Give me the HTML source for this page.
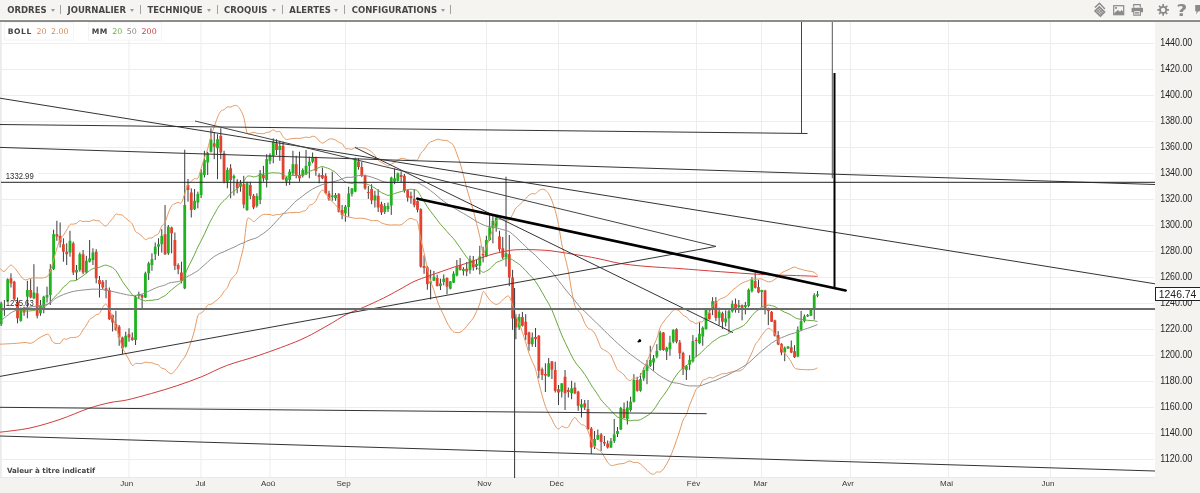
<!DOCTYPE html>
<html><head><meta charset="utf-8"><style>
html,body{margin:0;padding:0;width:1200px;height:493px;overflow:hidden;background:#fff;font-family:"Liberation Sans",Arial,sans-serif}
#tb{position:absolute;left:0;top:0;width:1200px;height:19px;background:#f5f4f1;border-bottom:1px solid #fbfbfa}
#tbl{position:absolute;left:0;top:20px;width:1200px;height:2px;background:#8c8c8c}
.mi{position:absolute;top:5px;font-family:"DejaVu Sans",sans-serif;font-size:8.5px;font-weight:bold;color:#454545;white-space:nowrap;line-height:11px}
.ar{position:absolute;top:9px;width:0;height:0;border-left:2.3px solid transparent;border-right:2.3px solid transparent;border-top:3px solid #9a9a9a}
.sp{position:absolute;top:5px;width:1.3px;height:9px;background:#a2a2a2}
svg{position:absolute;left:0;top:0}
</style></head><body>
<div id="tb"></div><div id="tbl"></div>
<span class="mi" style="left:7.3px">ORDRES</span><span class="ar" style="left:50.5px"></span><span class="sp" style="left:60px"></span>
<span class="mi" style="left:67.5px">JOURNALIER</span><span class="ar" style="left:130px"></span><span class="sp" style="left:140px"></span>
<span class="mi" style="left:147.5px">TECHNIQUE</span><span class="ar" style="left:207px"></span><span class="sp" style="left:216.5px"></span>
<span class="mi" style="left:224px">CROQUIS</span><span class="ar" style="left:272px"></span><span class="sp" style="left:281.5px"></span>
<span class="mi" style="left:289.3px">ALERTES</span><span class="ar" style="left:334px"></span><span class="sp" style="left:343.5px"></span>
<span class="mi" style="left:351.7px">CONFIGURATIONS</span><span class="ar" style="left:440.5px"></span><span class="sp" style="left:450px"></span>
<svg width="1200" height="493" viewBox="0 0 1200 493" style="top:0">
<defs><style>.w{stroke:#3c3c3c;stroke-width:1}</style></defs>
<g transform="translate(0,0)">
<rect x="0" y="22" width="1155" height="456" fill="#fff"/>
<g stroke="#ededed" stroke-width="1"><line x1="0" y1="459.5" x2="1154" y2="459.5"/><line x1="0" y1="433.5" x2="1154" y2="433.5"/><line x1="0" y1="407.5" x2="1154" y2="407.5"/><line x1="0" y1="381.5" x2="1154" y2="381.5"/><line x1="0" y1="355.5" x2="1154" y2="355.5"/><line x1="0" y1="329.5" x2="1154" y2="329.5"/><line x1="0" y1="303.5" x2="1154" y2="303.5"/><line x1="0" y1="277.5" x2="1154" y2="277.5"/><line x1="0" y1="251.5" x2="1154" y2="251.5"/><line x1="0" y1="225.5" x2="1154" y2="225.5"/><line x1="0" y1="199.5" x2="1154" y2="199.5"/><line x1="0" y1="173.5" x2="1154" y2="173.5"/><line x1="0" y1="147.5" x2="1154" y2="147.5"/><line x1="0" y1="121.5" x2="1154" y2="121.5"/><line x1="0" y1="95.5" x2="1154" y2="95.5"/><line x1="0" y1="69.5" x2="1154" y2="69.5"/><line x1="0" y1="43.5" x2="1154" y2="43.5"/><line x1="129" y1="22" x2="129" y2="478"/><line x1="201" y1="22" x2="201" y2="478"/><line x1="270" y1="22" x2="270" y2="478"/><line x1="345.5" y1="22" x2="345.5" y2="478"/><line x1="486.5" y1="22" x2="486.5" y2="478"/><line x1="558.5" y1="22" x2="558.5" y2="478"/><line x1="696.5" y1="22" x2="696.5" y2="478"/><line x1="761.5" y1="22" x2="761.5" y2="478"/><line x1="850.5" y1="22" x2="850.5" y2="478"/><line x1="948.5" y1="22" x2="948.5" y2="478"/><line x1="1050.5" y1="22" x2="1050.5" y2="478"/></g>
<rect x="0" y="22" width="1.8" height="456" fill="#ebebeb"/>
<rect x="1155" y="22" width="45" height="471" fill="#f4f3f0"/>
<rect x="0" y="478" width="1155" height="15" fill="#f4f3f0"/>
<line x1="0" y1="477.5" x2="1155" y2="477.5" stroke="#e8e8e8"/>
<rect x="1.8" y="170.5" width="37.2" height="11" fill="#fff"/><rect x="1.8" y="297.5" width="37.2" height="10" fill="#fff"/>
<g><line x1="1.13" y1="301.7" x2="1.13" y2="326.0" class="w"/><rect x="-0.27" y="303.3" width="2.8" height="20.9" fill="#1fb31f"/><line x1="4.41" y1="300.0" x2="4.41" y2="315.8" class="w"/><rect x="3.01" y="308.5" width="2.8" height="1.5" fill="#e2422f"/><line x1="7.69" y1="278.3" x2="7.69" y2="301.7" class="w"/><rect x="6.29" y="279.2" width="2.8" height="21.6" fill="#1fb31f"/><line x1="10.97" y1="273.3" x2="10.97" y2="287.5" class="w"/><rect x="9.57" y="278.3" width="2.8" height="5.0" fill="#e2422f"/><line x1="14.24" y1="280.8" x2="14.24" y2="300.8" class="w"/><rect x="12.84" y="281.7" width="2.8" height="17.5" fill="#e2422f"/><line x1="17.52" y1="297.5" x2="17.52" y2="323.3" class="w"/><rect x="16.12" y="301.7" width="2.8" height="16.6" fill="#e2422f"/><line x1="20.80" y1="307.5" x2="20.80" y2="321.7" class="w"/><rect x="19.40" y="309.2" width="2.8" height="11.6" fill="#1fb31f"/><line x1="24.08" y1="306.7" x2="24.08" y2="315.8" class="w"/><rect x="22.68" y="307.5" width="2.8" height="5.0" fill="#e2422f"/><line x1="27.36" y1="280.8" x2="27.36" y2="318.3" class="w"/><rect x="25.96" y="290.0" width="2.8" height="6.7" fill="#1fb31f"/><line x1="30.64" y1="279.2" x2="30.64" y2="298.3" class="w"/><rect x="29.24" y="290.0" width="2.8" height="7.5" fill="#e2422f"/><line x1="33.92" y1="264.2" x2="33.92" y2="299.2" class="w"/><rect x="32.52" y="292.5" width="2.8" height="5.8" fill="#1fb31f"/><line x1="37.19" y1="286.7" x2="37.19" y2="318.3" class="w"/><rect x="35.79" y="293.3" width="2.8" height="22.5" fill="#e2422f"/><line x1="40.47" y1="300.0" x2="40.47" y2="315.8" class="w"/><rect x="39.07" y="305.0" width="2.8" height="8.3" fill="#1fb31f"/><line x1="43.75" y1="295.8" x2="43.75" y2="313.3" class="w"/><rect x="42.35" y="296.7" width="2.8" height="11.6" fill="#1fb31f"/><line x1="47.03" y1="286.7" x2="47.03" y2="302.5" class="w"/><rect x="45.63" y="295.0" width="2.8" height="2.5" fill="#1fb31f"/><line x1="50.31" y1="264.2" x2="50.31" y2="305.0" class="w"/><rect x="48.91" y="269.2" width="2.8" height="25.8" fill="#1fb31f"/><line x1="53.59" y1="229.7" x2="53.59" y2="270.0" class="w"/><rect x="52.19" y="234.2" width="2.8" height="35.0" fill="#1fb31f"/><line x1="56.87" y1="220.8" x2="56.87" y2="240.8" class="w"/><rect x="55.47" y="234.2" width="2.8" height="2.5" fill="#e2422f"/><line x1="60.14" y1="222.5" x2="60.14" y2="247.5" class="w"/><rect x="58.74" y="235.8" width="2.8" height="6.7" fill="#e2422f"/><line x1="63.42" y1="238.3" x2="63.42" y2="261.7" class="w"/><rect x="62.02" y="244.2" width="2.8" height="7.5" fill="#e2422f"/><line x1="66.70" y1="243.3" x2="66.70" y2="265.0" class="w"/><rect x="65.30" y="251.7" width="2.8" height="2.5" fill="#e2422f"/><line x1="69.98" y1="230.8" x2="69.98" y2="256.7" class="w"/><rect x="68.58" y="240.8" width="2.8" height="11.7" fill="#1fb31f"/><line x1="73.26" y1="241.7" x2="73.26" y2="275.0" class="w"/><rect x="71.86" y="243.3" width="2.8" height="29.2" fill="#e2422f"/><line x1="76.54" y1="265.0" x2="76.54" y2="280.0" class="w"/><rect x="75.14" y="270.0" width="2.8" height="2.5" fill="#1fb31f"/><line x1="79.82" y1="252.5" x2="79.82" y2="271.7" class="w"/><rect x="78.42" y="254.2" width="2.8" height="15.8" fill="#1fb31f"/><line x1="83.09" y1="250.0" x2="83.09" y2="274.2" class="w"/><rect x="81.69" y="254.2" width="2.8" height="18.3" fill="#e2422f"/><line x1="86.37" y1="255.8" x2="86.37" y2="273.3" class="w"/><rect x="84.97" y="260.8" width="2.8" height="11.7" fill="#1fb31f"/><line x1="89.65" y1="240.0" x2="89.65" y2="262.5" class="w"/><rect x="88.25" y="258.3" width="2.8" height="3.4" fill="#1fb31f"/><line x1="92.93" y1="248.3" x2="92.93" y2="265.0" class="w"/><rect x="91.53" y="252.5" width="2.8" height="7.5" fill="#1fb31f"/><line x1="96.21" y1="249.2" x2="96.21" y2="283.3" class="w"/><rect x="94.81" y="251.7" width="2.8" height="26.6" fill="#e2422f"/><line x1="99.49" y1="276.0" x2="99.49" y2="297.5" class="w"/><rect x="98.09" y="280.0" width="2.8" height="4.2" fill="#e2422f"/><line x1="102.77" y1="280.0" x2="102.77" y2="289.2" class="w"/><rect x="101.37" y="281.7" width="2.8" height="5.8" fill="#e2422f"/><line x1="106.05" y1="280.0" x2="106.05" y2="298.3" class="w"/><rect x="104.65" y="288.3" width="2.8" height="2.5" fill="#e2422f"/><line x1="109.32" y1="287.5" x2="109.32" y2="320.0" class="w"/><rect x="107.92" y="290.0" width="2.8" height="29.2" fill="#e2422f"/><line x1="112.60" y1="314.6" x2="112.60" y2="331.5" class="w"/><rect x="111.20" y="315.0" width="2.8" height="7.5" fill="#e2422f"/><line x1="115.88" y1="310.8" x2="115.88" y2="330.8" class="w"/><rect x="114.48" y="324.2" width="2.8" height="5.8" fill="#e2422f"/><line x1="119.16" y1="325.0" x2="119.16" y2="345.8" class="w"/><rect x="117.76" y="326.7" width="2.8" height="10.8" fill="#e2422f"/><line x1="122.44" y1="336.7" x2="122.44" y2="354.2" class="w"/><rect x="121.04" y="337.5" width="2.8" height="10.8" fill="#e2422f"/><line x1="125.72" y1="331.7" x2="125.72" y2="347.5" class="w"/><rect x="124.32" y="335.8" width="2.8" height="10.9" fill="#1fb31f"/><line x1="129.00" y1="328.3" x2="129.00" y2="341.7" class="w"/><rect x="127.60" y="334.2" width="2.8" height="3.3" fill="#e2422f"/><line x1="132.27" y1="332.5" x2="132.27" y2="340.8" class="w"/><rect x="130.87" y="337.5" width="2.8" height="2.5" fill="#e2422f"/><line x1="135.55" y1="295.8" x2="135.55" y2="345.0" class="w"/><rect x="134.15" y="296.7" width="2.8" height="43.3" fill="#1fb31f"/><line x1="138.83" y1="291.7" x2="138.83" y2="298.3" class="w"/><rect x="137.43" y="294.0" width="2.8" height="2.0" fill="#1fb31f"/><line x1="142.11" y1="294.2" x2="142.11" y2="308.3" class="w"/><rect x="140.71" y="295.0" width="2.8" height="2.5" fill="#e2422f"/><line x1="145.39" y1="271.7" x2="145.39" y2="298.0" class="w"/><rect x="143.99" y="273.3" width="2.8" height="24.2" fill="#1fb31f"/><line x1="148.67" y1="261.7" x2="148.67" y2="280.0" class="w"/><rect x="147.27" y="263.3" width="2.8" height="10.0" fill="#1fb31f"/><line x1="151.95" y1="253.3" x2="151.95" y2="270.8" class="w"/><rect x="150.55" y="259.2" width="2.8" height="5.8" fill="#1fb31f"/><line x1="155.22" y1="242.5" x2="155.22" y2="260.0" class="w"/><rect x="153.82" y="246.7" width="2.8" height="7.5" fill="#1fb31f"/><line x1="158.50" y1="238.3" x2="158.50" y2="255.8" class="w"/><rect x="157.10" y="244.2" width="2.8" height="2.5" fill="#1fb31f"/><line x1="161.78" y1="229.2" x2="161.78" y2="252.5" class="w"/><rect x="160.38" y="235.8" width="2.8" height="8.4" fill="#1fb31f"/><line x1="165.06" y1="205.0" x2="165.06" y2="255.0" class="w"/><rect x="163.66" y="234.2" width="2.8" height="20.0" fill="#e2422f"/><line x1="168.34" y1="225.0" x2="168.34" y2="255.0" class="w"/><rect x="166.94" y="226.7" width="2.8" height="26.6" fill="#1fb31f"/><line x1="171.62" y1="226.7" x2="171.62" y2="253.3" class="w"/><rect x="170.22" y="227.5" width="2.8" height="5.8" fill="#e2422f"/><line x1="174.90" y1="232.5" x2="174.90" y2="270.0" class="w"/><rect x="173.50" y="240.0" width="2.8" height="25.8" fill="#e2422f"/><line x1="178.17" y1="263.3" x2="178.17" y2="274.2" class="w"/><rect x="176.77" y="265.0" width="2.8" height="4.2" fill="#e2422f"/><line x1="181.45" y1="261.7" x2="181.45" y2="283.3" class="w"/><rect x="180.05" y="272.5" width="2.8" height="8.3" fill="#e2422f"/><line x1="184.73" y1="149.7" x2="184.73" y2="289.2" class="w"/><rect x="183.33" y="205.0" width="2.8" height="83.3" fill="#1fb31f"/><line x1="188.01" y1="179.0" x2="188.01" y2="201.7" class="w"/><rect x="186.61" y="185.0" width="2.8" height="5.0" fill="#e2422f"/><line x1="191.29" y1="188.3" x2="191.29" y2="217.5" class="w"/><rect x="189.89" y="192.5" width="2.8" height="17.5" fill="#e2422f"/><line x1="194.57" y1="189.0" x2="194.57" y2="210.0" class="w"/><rect x="193.17" y="200.8" width="2.8" height="8.4" fill="#1fb31f"/><line x1="197.85" y1="191.7" x2="197.85" y2="208.3" class="w"/><rect x="196.45" y="194.0" width="2.8" height="8.5" fill="#1fb31f"/><line x1="201.12" y1="169.2" x2="201.12" y2="198.0" class="w"/><rect x="199.72" y="172.5" width="2.8" height="22.5" fill="#1fb31f"/><line x1="204.40" y1="150.8" x2="204.40" y2="177.5" class="w"/><rect x="203.00" y="160.0" width="2.8" height="15.0" fill="#1fb31f"/><line x1="207.68" y1="151.7" x2="207.68" y2="175.0" class="w"/><rect x="206.28" y="153.3" width="2.8" height="9.2" fill="#1fb31f"/><line x1="210.96" y1="128.3" x2="210.96" y2="152.5" class="w"/><rect x="209.56" y="139.5" width="2.8" height="12.2" fill="#1fb31f"/><line x1="214.24" y1="132.5" x2="214.24" y2="159.2" class="w"/><rect x="212.84" y="143.3" width="2.8" height="3.4" fill="#e2422f"/><line x1="217.52" y1="134.2" x2="217.52" y2="179.2" class="w"/><rect x="216.12" y="139.2" width="2.8" height="9.1" fill="#1fb31f"/><line x1="220.80" y1="128.3" x2="220.80" y2="159.2" class="w"/><rect x="219.40" y="135.8" width="2.8" height="16.7" fill="#e2422f"/><line x1="224.07" y1="150.8" x2="224.07" y2="183.3" class="w"/><rect x="222.67" y="153.3" width="2.8" height="28.4" fill="#e2422f"/><line x1="227.35" y1="167.5" x2="227.35" y2="188.3" class="w"/><rect x="225.95" y="170.0" width="2.8" height="11.7" fill="#1fb31f"/><line x1="230.63" y1="164.2" x2="230.63" y2="198.3" class="w"/><rect x="229.23" y="168.3" width="2.8" height="11.7" fill="#e2422f"/><line x1="233.91" y1="174.5" x2="233.91" y2="195.5" class="w"/><rect x="232.51" y="176.0" width="2.8" height="2.3" fill="#1fb31f"/><line x1="237.19" y1="179.2" x2="237.19" y2="193.3" class="w"/><rect x="235.79" y="182.5" width="2.8" height="5.8" fill="#e2422f"/><line x1="240.47" y1="180.0" x2="240.47" y2="191.7" class="w"/><rect x="239.07" y="183.3" width="2.8" height="3.4" fill="#1fb31f"/><line x1="243.75" y1="175.8" x2="243.75" y2="208.3" class="w"/><rect x="242.35" y="184.2" width="2.8" height="20.3" fill="#e2422f"/><line x1="247.03" y1="181.7" x2="247.03" y2="210.8" class="w"/><rect x="245.62" y="183.3" width="2.8" height="26.7" fill="#1fb31f"/><line x1="250.30" y1="181.7" x2="250.30" y2="199.2" class="w"/><rect x="248.90" y="185.0" width="2.8" height="10.8" fill="#e2422f"/><line x1="253.58" y1="194.0" x2="253.58" y2="209.2" class="w"/><rect x="252.18" y="195.8" width="2.8" height="11.7" fill="#e2422f"/><line x1="256.86" y1="193.3" x2="256.86" y2="207.5" class="w"/><rect x="255.46" y="196.0" width="2.8" height="9.8" fill="#1fb31f"/><line x1="260.14" y1="170.0" x2="260.14" y2="204.2" class="w"/><rect x="258.74" y="173.3" width="2.8" height="26.7" fill="#1fb31f"/><line x1="263.42" y1="165.8" x2="263.42" y2="181.7" class="w"/><rect x="262.02" y="175.0" width="2.8" height="3.3" fill="#e2422f"/><line x1="266.70" y1="154.2" x2="266.70" y2="187.5" class="w"/><rect x="265.30" y="159.2" width="2.8" height="20.8" fill="#1fb31f"/><line x1="269.98" y1="153.3" x2="269.98" y2="164.2" class="w"/><rect x="268.58" y="155.0" width="2.8" height="5.8" fill="#1fb31f"/><line x1="273.25" y1="138.3" x2="273.25" y2="163.3" class="w"/><rect x="271.85" y="141.7" width="2.8" height="14.1" fill="#1fb31f"/><line x1="276.53" y1="139.2" x2="276.53" y2="155.0" class="w"/><rect x="275.13" y="143.3" width="2.8" height="6.7" fill="#e2422f"/><line x1="279.81" y1="140.8" x2="279.81" y2="160.8" class="w"/><rect x="278.41" y="145.8" width="2.8" height="4.2" fill="#1fb31f"/><line x1="283.09" y1="141.7" x2="283.09" y2="180.0" class="w"/><rect x="281.69" y="145.8" width="2.8" height="33.4" fill="#e2422f"/><line x1="286.37" y1="176.7" x2="286.37" y2="185.8" class="w"/><rect x="284.97" y="177.5" width="2.8" height="4.2" fill="#1fb31f"/><line x1="289.65" y1="169.2" x2="289.65" y2="185.0" class="w"/><rect x="288.25" y="171.7" width="2.8" height="8.3" fill="#1fb31f"/><line x1="292.93" y1="150.8" x2="292.93" y2="175.0" class="w"/><rect x="291.53" y="164.2" width="2.8" height="9.1" fill="#1fb31f"/><line x1="296.20" y1="155.8" x2="296.20" y2="178.3" class="w"/><rect x="294.80" y="164.2" width="2.8" height="11.6" fill="#e2422f"/><line x1="299.48" y1="151.7" x2="299.48" y2="181.7" class="w"/><rect x="298.08" y="175.0" width="2.8" height="3.3" fill="#e2422f"/><line x1="302.76" y1="168.3" x2="302.76" y2="177.5" class="w"/><rect x="301.36" y="170.0" width="2.8" height="5.8" fill="#1fb31f"/><line x1="306.04" y1="150.0" x2="306.04" y2="175.0" class="w"/><rect x="304.64" y="165.8" width="2.8" height="8.4" fill="#1fb31f"/><line x1="309.32" y1="156.7" x2="309.32" y2="178.3" class="w"/><rect x="307.92" y="161.7" width="2.8" height="4.1" fill="#1fb31f"/><line x1="312.60" y1="152.5" x2="312.60" y2="163.3" class="w"/><rect x="311.20" y="157.5" width="2.8" height="4.2" fill="#1fb31f"/><line x1="315.88" y1="156.7" x2="315.88" y2="175.8" class="w"/><rect x="314.48" y="157.5" width="2.8" height="13.3" fill="#e2422f"/><line x1="319.15" y1="173.3" x2="319.15" y2="183.3" class="w"/><rect x="317.75" y="175.0" width="2.8" height="2.0" fill="#e2422f"/><line x1="322.43" y1="167.5" x2="322.43" y2="179.2" class="w"/><rect x="321.03" y="175.0" width="2.8" height="3.3" fill="#e2422f"/><line x1="325.71" y1="173.3" x2="325.71" y2="194.2" class="w"/><rect x="324.31" y="175.8" width="2.8" height="17.5" fill="#e2422f"/><line x1="328.99" y1="190.8" x2="328.99" y2="200.8" class="w"/><rect x="327.59" y="193.3" width="2.8" height="5.9" fill="#e2422f"/><line x1="332.27" y1="171.7" x2="332.27" y2="200.8" class="w"/><rect x="330.87" y="195.5" width="2.8" height="1.5" fill="#1fb31f"/><line x1="335.55" y1="193.0" x2="335.55" y2="200.8" class="w"/><rect x="334.15" y="195.0" width="2.8" height="3.3" fill="#1fb31f"/><line x1="338.83" y1="193.0" x2="338.83" y2="212.5" class="w"/><rect x="337.43" y="194.2" width="2.8" height="17.5" fill="#e2422f"/><line x1="342.10" y1="205.0" x2="342.10" y2="219.2" class="w"/><rect x="340.70" y="210.0" width="2.8" height="5.0" fill="#e2422f"/><line x1="345.38" y1="205.0" x2="345.38" y2="221.7" class="w"/><rect x="343.98" y="206.7" width="2.8" height="6.6" fill="#1fb31f"/><line x1="348.66" y1="186.7" x2="348.66" y2="216.7" class="w"/><rect x="347.26" y="193.5" width="2.8" height="13.5" fill="#1fb31f"/><line x1="351.94" y1="188.3" x2="351.94" y2="196.5" class="w"/><rect x="350.54" y="188.3" width="2.8" height="5.6" fill="#1fb31f"/><line x1="355.22" y1="157.6" x2="355.22" y2="192.2" class="w"/><rect x="353.82" y="158.9" width="2.8" height="32.7" fill="#1fb31f"/><line x1="358.50" y1="158.2" x2="358.50" y2="169.6" class="w"/><rect x="357.10" y="161.4" width="2.8" height="5.6" fill="#e2422f"/><line x1="361.78" y1="162.0" x2="361.78" y2="177.1" class="w"/><rect x="360.38" y="167.0" width="2.8" height="8.8" fill="#e2422f"/><line x1="365.05" y1="174.6" x2="365.05" y2="189.7" class="w"/><rect x="363.65" y="175.8" width="2.8" height="12.6" fill="#e2422f"/><line x1="368.33" y1="186.0" x2="368.33" y2="198.8" class="w"/><rect x="366.93" y="192.0" width="2.8" height="1.0" fill="#e2422f"/><line x1="371.61" y1="184.2" x2="371.61" y2="204.2" class="w"/><rect x="370.21" y="189.0" width="2.8" height="11.4" fill="#e2422f"/><line x1="374.89" y1="190.8" x2="374.89" y2="207.5" class="w"/><rect x="373.49" y="195.3" width="2.8" height="5.1" fill="#1fb31f"/><line x1="378.17" y1="189.2" x2="378.17" y2="212.0" class="w"/><rect x="376.77" y="195.8" width="2.8" height="11.7" fill="#e2422f"/><line x1="381.45" y1="201.7" x2="381.45" y2="215.0" class="w"/><rect x="380.05" y="204.2" width="2.8" height="8.3" fill="#e2422f"/><line x1="384.73" y1="203.0" x2="384.73" y2="214.0" class="w"/><rect x="383.33" y="206.0" width="2.8" height="6.0" fill="#1fb31f"/><line x1="388.00" y1="202.5" x2="388.00" y2="212.0" class="w"/><rect x="386.60" y="205.8" width="2.8" height="3.4" fill="#1fb31f"/><line x1="391.28" y1="176.7" x2="391.28" y2="214.9" class="w"/><rect x="389.88" y="177.7" width="2.8" height="27.8" fill="#1fb31f"/><line x1="394.56" y1="168.3" x2="394.56" y2="184.2" class="w"/><rect x="393.16" y="178.3" width="2.8" height="3.4" fill="#1fb31f"/><line x1="397.84" y1="172.5" x2="397.84" y2="181.7" class="w"/><rect x="396.44" y="173.3" width="2.8" height="7.5" fill="#1fb31f"/><line x1="401.12" y1="171.4" x2="401.12" y2="182.1" class="w"/><rect x="399.72" y="175.0" width="2.8" height="2.0" fill="#e2422f"/><line x1="404.40" y1="174.0" x2="404.40" y2="192.7" class="w"/><rect x="403.00" y="175.8" width="2.8" height="14.7" fill="#e2422f"/><line x1="407.68" y1="189.5" x2="407.68" y2="201.7" class="w"/><rect x="406.28" y="190.3" width="2.8" height="7.4" fill="#e2422f"/><line x1="410.95" y1="191.7" x2="410.95" y2="203.7" class="w"/><rect x="409.56" y="196.0" width="2.8" height="2.3" fill="#e2422f"/><line x1="414.23" y1="189.0" x2="414.23" y2="207.4" class="w"/><rect x="412.83" y="198.7" width="2.8" height="6.4" fill="#e2422f"/><line x1="417.51" y1="200.4" x2="417.51" y2="212.4" class="w"/><rect x="416.11" y="201.1" width="2.8" height="8.7" fill="#e2422f"/><line x1="420.79" y1="208.3" x2="420.79" y2="267.7" class="w"/><rect x="419.39" y="209.2" width="2.8" height="57.5" fill="#e2422f"/><line x1="424.07" y1="255.4" x2="424.07" y2="273.8" class="w"/><rect x="422.67" y="266.0" width="2.8" height="2.0" fill="#e2422f"/><line x1="427.35" y1="266.0" x2="427.35" y2="289.7" class="w"/><rect x="425.95" y="267.4" width="2.8" height="16.7" fill="#e2422f"/><line x1="430.63" y1="269.7" x2="430.63" y2="299.5" class="w"/><rect x="429.23" y="281.4" width="2.8" height="2.0" fill="#1fb31f"/><line x1="433.91" y1="271.0" x2="433.91" y2="281.0" class="w"/><rect x="432.51" y="276.7" width="2.8" height="4.0" fill="#1fb31f"/><line x1="437.18" y1="274.7" x2="437.18" y2="286.4" class="w"/><rect x="435.78" y="278.0" width="2.8" height="8.1" fill="#e2422f"/><line x1="440.46" y1="278.7" x2="440.46" y2="290.1" class="w"/><rect x="439.06" y="283.4" width="2.8" height="2.7" fill="#1fb31f"/><line x1="443.74" y1="274.4" x2="443.74" y2="285.4" class="w"/><rect x="442.34" y="278.7" width="2.8" height="3.3" fill="#1fb31f"/><line x1="447.02" y1="277.4" x2="447.02" y2="294.4" class="w"/><rect x="445.62" y="278.0" width="2.8" height="8.7" fill="#e2422f"/><line x1="450.30" y1="281.0" x2="450.30" y2="289.4" class="w"/><rect x="448.90" y="281.4" width="2.8" height="7.3" fill="#1fb31f"/><line x1="453.58" y1="271.3" x2="453.58" y2="283.0" class="w"/><rect x="452.18" y="273.7" width="2.8" height="9.0" fill="#1fb31f"/><line x1="456.86" y1="260.0" x2="456.86" y2="276.4" class="w"/><rect x="455.46" y="266.4" width="2.8" height="9.0" fill="#1fb31f"/><line x1="460.13" y1="258.0" x2="460.13" y2="270.4" class="w"/><rect x="458.73" y="265.1" width="2.8" height="5.0" fill="#e2422f"/><line x1="463.41" y1="267.1" x2="463.41" y2="275.4" class="w"/><rect x="462.01" y="269.0" width="2.8" height="2.0" fill="#1fb31f"/><line x1="466.69" y1="262.0" x2="466.69" y2="276.1" class="w"/><rect x="465.29" y="268.7" width="2.8" height="2.7" fill="#e2422f"/><line x1="469.97" y1="255.7" x2="469.97" y2="273.8" class="w"/><rect x="468.57" y="259.4" width="2.8" height="10.7" fill="#1fb31f"/><line x1="473.25" y1="256.0" x2="473.25" y2="270.7" class="w"/><rect x="471.85" y="260.4" width="2.8" height="7.0" fill="#e2422f"/><line x1="476.53" y1="260.0" x2="476.53" y2="269.7" class="w"/><rect x="475.13" y="264.0" width="2.8" height="2.0" fill="#1fb31f"/><line x1="479.81" y1="245.8" x2="479.81" y2="274.4" class="w"/><rect x="478.41" y="256.4" width="2.8" height="9.3" fill="#1fb31f"/><line x1="483.08" y1="246.7" x2="483.08" y2="262.4" class="w"/><rect x="481.68" y="254.0" width="2.8" height="1.4" fill="#e2422f"/><line x1="486.36" y1="235.8" x2="486.36" y2="256.7" class="w"/><rect x="484.96" y="240.0" width="2.8" height="16.4" fill="#1fb31f"/><line x1="489.64" y1="215.0" x2="489.64" y2="240.8" class="w"/><rect x="488.24" y="227.5" width="2.8" height="12.5" fill="#1fb31f"/><line x1="492.92" y1="215.0" x2="492.92" y2="243.3" class="w"/><rect x="491.52" y="220.8" width="2.8" height="7.5" fill="#1fb31f"/><line x1="496.20" y1="215.8" x2="496.20" y2="231.7" class="w"/><rect x="494.80" y="217.5" width="2.8" height="9.2" fill="#1fb31f"/><line x1="499.48" y1="230.8" x2="499.48" y2="251.7" class="w"/><rect x="498.08" y="236.4" width="2.8" height="12.8" fill="#e2422f"/><line x1="502.76" y1="237.0" x2="502.76" y2="259.2" class="w"/><rect x="501.36" y="248.3" width="2.8" height="9.2" fill="#e2422f"/><line x1="506.03" y1="176.7" x2="506.03" y2="266.5" class="w"/><rect x="504.63" y="253.2" width="2.8" height="4.0" fill="#1fb31f"/><line x1="509.31" y1="235.0" x2="509.31" y2="286.1" class="w"/><rect x="507.91" y="254.2" width="2.8" height="23.3" fill="#e2422f"/><line x1="512.59" y1="269.9" x2="512.59" y2="329.9" class="w"/><rect x="511.19" y="277.5" width="2.8" height="41.0" fill="#e2422f"/><line x1="515.87" y1="314.2" x2="515.87" y2="339.2" class="w"/><rect x="514.47" y="317.5" width="2.8" height="10.0" fill="#e2422f"/><line x1="519.15" y1="313.8" x2="519.15" y2="329.9" class="w"/><rect x="517.75" y="316.8" width="2.8" height="10.5" fill="#1fb31f"/><line x1="522.43" y1="311.9" x2="522.43" y2="326.5" class="w"/><rect x="521.03" y="317.1" width="2.8" height="8.7" fill="#e2422f"/><line x1="525.71" y1="314.2" x2="525.71" y2="340.0" class="w"/><rect x="524.31" y="321.7" width="2.8" height="13.3" fill="#e2422f"/><line x1="528.98" y1="331.7" x2="528.98" y2="350.8" class="w"/><rect x="527.58" y="332.5" width="2.8" height="11.7" fill="#e2422f"/><line x1="532.26" y1="332.5" x2="532.26" y2="346.7" class="w"/><rect x="530.86" y="337.5" width="2.8" height="6.7" fill="#1fb31f"/><line x1="535.54" y1="328.0" x2="535.54" y2="347.0" class="w"/><rect x="534.14" y="337.0" width="2.8" height="2.0" fill="#e2422f"/><line x1="538.82" y1="335.0" x2="538.82" y2="378.3" class="w"/><rect x="537.42" y="335.8" width="2.8" height="35.0" fill="#e2422f"/><line x1="542.10" y1="367.5" x2="542.10" y2="380.0" class="w"/><rect x="540.70" y="369.2" width="2.8" height="5.8" fill="#e2422f"/><line x1="545.38" y1="363.3" x2="545.38" y2="392.0" class="w"/><rect x="543.98" y="374.0" width="2.8" height="1.6" fill="#e2422f"/><line x1="548.66" y1="358.0" x2="548.66" y2="376.8" class="w"/><rect x="547.26" y="363.3" width="2.8" height="13.1" fill="#1fb31f"/><line x1="551.93" y1="361.0" x2="551.93" y2="379.0" class="w"/><rect x="550.53" y="361.4" width="2.8" height="8.2" fill="#e2422f"/><line x1="555.21" y1="361.7" x2="555.21" y2="392.5" class="w"/><rect x="553.81" y="370.0" width="2.8" height="20.8" fill="#e2422f"/><line x1="558.49" y1="385.0" x2="558.49" y2="405.0" class="w"/><rect x="557.09" y="389.2" width="2.8" height="3.3" fill="#e2422f"/><line x1="561.77" y1="383.3" x2="561.77" y2="397.5" class="w"/><rect x="560.37" y="383.3" width="2.8" height="8.4" fill="#1fb31f"/><line x1="565.05" y1="370.0" x2="565.05" y2="410.0" class="w"/><rect x="563.65" y="376.7" width="2.8" height="16.6" fill="#e2422f"/><line x1="568.33" y1="387.5" x2="568.33" y2="397.5" class="w"/><rect x="566.93" y="390.0" width="2.8" height="2.0" fill="#e2422f"/><line x1="571.61" y1="380.8" x2="571.61" y2="399.2" class="w"/><rect x="570.21" y="388.3" width="2.8" height="5.0" fill="#1fb31f"/><line x1="574.88" y1="382.5" x2="574.88" y2="394.2" class="w"/><rect x="573.49" y="387.5" width="2.8" height="5.8" fill="#e2422f"/><line x1="578.16" y1="390.8" x2="578.16" y2="410.8" class="w"/><rect x="576.76" y="391.7" width="2.8" height="14.1" fill="#e2422f"/><line x1="581.44" y1="399.2" x2="581.44" y2="417.5" class="w"/><rect x="580.04" y="404.2" width="2.8" height="3.3" fill="#1fb31f"/><line x1="584.72" y1="400.0" x2="584.72" y2="410.0" class="w"/><rect x="583.32" y="403.3" width="2.8" height="4.2" fill="#e2422f"/><line x1="588.00" y1="400.0" x2="588.00" y2="430.0" class="w"/><rect x="586.60" y="409.0" width="2.8" height="20.0" fill="#e2422f"/><line x1="591.28" y1="427.0" x2="591.28" y2="454.0" class="w"/><rect x="589.88" y="428.5" width="2.8" height="19.0" fill="#e2422f"/><line x1="594.56" y1="431.0" x2="594.56" y2="449.0" class="w"/><rect x="593.16" y="439.0" width="2.8" height="7.5" fill="#1fb31f"/><line x1="597.84" y1="429.5" x2="597.84" y2="440.0" class="w"/><rect x="596.44" y="435.0" width="2.8" height="4.5" fill="#1fb31f"/><line x1="601.11" y1="433.0" x2="601.11" y2="451.0" class="w"/><rect x="599.71" y="434.5" width="2.8" height="7.5" fill="#e2422f"/><line x1="604.39" y1="436.0" x2="604.39" y2="446.0" class="w"/><rect x="602.99" y="442.0" width="2.8" height="1.5" fill="#e2422f"/><line x1="607.67" y1="440.5" x2="607.67" y2="448.5" class="w"/><rect x="606.27" y="443.5" width="2.8" height="4.0" fill="#e2422f"/><line x1="610.95" y1="438.0" x2="610.95" y2="448.0" class="w"/><rect x="609.55" y="441.0" width="2.8" height="6.5" fill="#1fb31f"/><line x1="614.23" y1="419.0" x2="614.23" y2="443.0" class="w"/><rect x="612.83" y="434.5" width="2.8" height="6.5" fill="#1fb31f"/><line x1="617.51" y1="427.0" x2="617.51" y2="437.0" class="w"/><rect x="616.11" y="431.0" width="2.8" height="3.0" fill="#1fb31f"/><line x1="620.79" y1="407.0" x2="620.79" y2="430.0" class="w"/><rect x="619.39" y="408.0" width="2.8" height="21.5" fill="#1fb31f"/><line x1="624.06" y1="402.5" x2="624.06" y2="418.3" class="w"/><rect x="622.66" y="409.0" width="2.8" height="9.0" fill="#e2422f"/><line x1="627.34" y1="400.8" x2="627.34" y2="424.5" class="w"/><rect x="625.94" y="407.5" width="2.8" height="11.5" fill="#1fb31f"/><line x1="630.62" y1="396.7" x2="630.62" y2="411.7" class="w"/><rect x="629.22" y="401.7" width="2.8" height="8.3" fill="#1fb31f"/><line x1="633.90" y1="374.2" x2="633.90" y2="402.5" class="w"/><rect x="632.50" y="380.0" width="2.8" height="21.7" fill="#1fb31f"/><line x1="637.18" y1="376.7" x2="637.18" y2="391.7" class="w"/><rect x="635.78" y="380.0" width="2.8" height="10.8" fill="#e2422f"/><line x1="640.46" y1="373.3" x2="640.46" y2="391.7" class="w"/><rect x="639.06" y="379.2" width="2.8" height="11.6" fill="#1fb31f"/><line x1="643.74" y1="367.5" x2="643.74" y2="380.8" class="w"/><rect x="642.34" y="370.0" width="2.8" height="8.3" fill="#1fb31f"/><line x1="647.01" y1="360.0" x2="647.01" y2="384.2" class="w"/><rect x="645.61" y="365.0" width="2.8" height="5.8" fill="#1fb31f"/><line x1="650.29" y1="345.8" x2="650.29" y2="367.0" class="w"/><rect x="648.89" y="360.0" width="2.8" height="5.8" fill="#1fb31f"/><line x1="653.57" y1="355.0" x2="653.57" y2="370.8" class="w"/><rect x="652.17" y="358.3" width="2.8" height="4.2" fill="#1fb31f"/><line x1="656.85" y1="344.2" x2="656.85" y2="358.3" class="w"/><rect x="655.45" y="350.8" width="2.8" height="5.9" fill="#1fb31f"/><line x1="660.13" y1="330.8" x2="660.13" y2="350.8" class="w"/><rect x="658.73" y="332.5" width="2.8" height="17.5" fill="#1fb31f"/><line x1="663.41" y1="332.0" x2="663.41" y2="350.8" class="w"/><rect x="662.01" y="332.5" width="2.8" height="17.5" fill="#e2422f"/><line x1="666.69" y1="346.7" x2="666.69" y2="360.0" class="w"/><rect x="665.29" y="347.8" width="2.8" height="3.7" fill="#1fb31f"/><line x1="669.96" y1="335.8" x2="669.96" y2="355.8" class="w"/><rect x="668.56" y="342.5" width="2.8" height="6.7" fill="#1fb31f"/><line x1="673.24" y1="329.2" x2="673.24" y2="343.3" class="w"/><rect x="671.84" y="330.0" width="2.8" height="11.7" fill="#1fb31f"/><line x1="676.52" y1="328.3" x2="676.52" y2="343.3" class="w"/><rect x="675.12" y="329.2" width="2.8" height="12.5" fill="#e2422f"/><line x1="679.80" y1="340.0" x2="679.80" y2="359.0" class="w"/><rect x="678.40" y="342.5" width="2.8" height="10.8" fill="#e2422f"/><line x1="683.08" y1="351.7" x2="683.08" y2="375.0" class="w"/><rect x="681.68" y="353.0" width="2.8" height="16.2" fill="#e2422f"/><line x1="686.36" y1="365.0" x2="686.36" y2="380.0" class="w"/><rect x="684.96" y="365.9" width="2.8" height="4.0" fill="#1fb31f"/><line x1="689.64" y1="355.2" x2="689.64" y2="369.9" class="w"/><rect x="688.24" y="359.9" width="2.8" height="4.7" fill="#1fb31f"/><line x1="692.91" y1="335.1" x2="692.91" y2="362.6" class="w"/><rect x="691.51" y="341.1" width="2.8" height="20.1" fill="#1fb31f"/><line x1="696.19" y1="337.5" x2="696.19" y2="357.2" class="w"/><rect x="694.79" y="340.0" width="2.8" height="1.0" fill="#e2422f"/><line x1="699.47" y1="322.4" x2="699.47" y2="343.8" class="w"/><rect x="698.07" y="333.8" width="2.8" height="9.4" fill="#1fb31f"/><line x1="702.75" y1="326.4" x2="702.75" y2="345.8" class="w"/><rect x="701.35" y="327.8" width="2.8" height="8.7" fill="#1fb31f"/><line x1="706.03" y1="309.0" x2="706.03" y2="329.5" class="w"/><rect x="704.63" y="309.5" width="2.8" height="19.6" fill="#1fb31f"/><line x1="709.31" y1="309.7" x2="709.31" y2="319.5" class="w"/><rect x="707.91" y="312.6" width="2.8" height="6.7" fill="#e2422f"/><line x1="712.59" y1="297.2" x2="712.59" y2="315.2" class="w"/><rect x="711.19" y="301.2" width="2.8" height="8.0" fill="#1fb31f"/><line x1="715.86" y1="297.2" x2="715.86" y2="320.9" class="w"/><rect x="714.46" y="301.2" width="2.8" height="16.7" fill="#e2422f"/><line x1="719.14" y1="307.7" x2="719.14" y2="325.1" class="w"/><rect x="717.74" y="311.7" width="2.8" height="6.2" fill="#1fb31f"/><line x1="722.42" y1="311.7" x2="722.42" y2="329.1" class="w"/><rect x="721.02" y="313.2" width="2.8" height="8.5" fill="#e2422f"/><line x1="725.70" y1="310.4" x2="725.70" y2="326.4" class="w"/><rect x="724.30" y="318.4" width="2.8" height="4.0" fill="#1fb31f"/><line x1="728.98" y1="309.0" x2="728.98" y2="332.4" class="w"/><rect x="727.58" y="311.2" width="2.8" height="7.2" fill="#1fb31f"/><line x1="732.26" y1="300.5" x2="732.26" y2="312.6" class="w"/><rect x="730.86" y="303.9" width="2.8" height="7.3" fill="#1fb31f"/><line x1="735.54" y1="298.5" x2="735.54" y2="312.6" class="w"/><rect x="734.14" y="303.9" width="2.8" height="4.6" fill="#e2422f"/><line x1="738.81" y1="300.0" x2="738.81" y2="313.0" class="w"/><rect x="737.41" y="305.0" width="2.8" height="2.0" fill="#1fb31f"/><line x1="742.09" y1="304.5" x2="742.09" y2="320.4" class="w"/><rect x="740.69" y="305.2" width="2.8" height="2.7" fill="#e2422f"/><line x1="745.37" y1="301.9" x2="745.37" y2="314.4" class="w"/><rect x="743.97" y="305.0" width="2.8" height="2.0" fill="#1fb31f"/><line x1="748.65" y1="288.5" x2="748.65" y2="307.2" class="w"/><rect x="747.25" y="289.8" width="2.8" height="16.1" fill="#1fb31f"/><line x1="751.93" y1="277.1" x2="751.93" y2="292.5" class="w"/><rect x="750.53" y="279.8" width="2.8" height="11.3" fill="#1fb31f"/><line x1="755.21" y1="272.4" x2="755.21" y2="288.5" class="w"/><rect x="753.81" y="281.1" width="2.8" height="6.7" fill="#e2422f"/><line x1="758.49" y1="279.8" x2="758.49" y2="293.2" class="w"/><rect x="757.09" y="287.1" width="2.8" height="5.4" fill="#e2422f"/><line x1="761.77" y1="289.8" x2="761.77" y2="307.2" class="w"/><rect x="760.37" y="290.0" width="2.8" height="2.0" fill="#1fb31f"/><line x1="765.04" y1="289.8" x2="765.04" y2="314.4" class="w"/><rect x="763.64" y="290.5" width="2.8" height="19.0" fill="#e2422f"/><line x1="768.32" y1="307.7" x2="768.32" y2="325.1" class="w"/><rect x="766.92" y="309.0" width="2.8" height="2.0" fill="#e2422f"/><line x1="771.60" y1="311.0" x2="771.60" y2="322.0" class="w"/><rect x="770.20" y="311.9" width="2.8" height="9.8" fill="#e2422f"/><line x1="774.88" y1="319.7" x2="774.88" y2="336.5" class="w"/><rect x="773.48" y="320.4" width="2.8" height="15.4" fill="#e2422f"/><line x1="778.16" y1="331.1" x2="778.16" y2="345.2" class="w"/><rect x="776.76" y="335.1" width="2.8" height="9.4" fill="#e2422f"/><line x1="781.44" y1="343.2" x2="781.44" y2="355.2" class="w"/><rect x="780.04" y="343.8" width="2.8" height="8.7" fill="#e2422f"/><line x1="784.72" y1="346.5" x2="784.72" y2="361.2" class="w"/><rect x="783.32" y="347.8" width="2.8" height="4.7" fill="#1fb31f"/><line x1="787.99" y1="346.0" x2="787.99" y2="349.0" class="w"/><rect x="786.59" y="346.5" width="2.8" height="2.0" fill="#1fb31f"/><line x1="791.27" y1="340.5" x2="791.27" y2="353.2" class="w"/><rect x="789.87" y="347.2" width="2.8" height="5.3" fill="#e2422f"/><line x1="794.55" y1="345.2" x2="794.55" y2="357.9" class="w"/><rect x="793.15" y="351.2" width="2.8" height="6.0" fill="#e2422f"/><line x1="797.83" y1="326.4" x2="797.83" y2="357.2" class="w"/><rect x="796.43" y="329.8" width="2.8" height="26.7" fill="#1fb31f"/><line x1="801.11" y1="311.0" x2="801.11" y2="331.1" class="w"/><rect x="799.71" y="321.1" width="2.8" height="8.7" fill="#1fb31f"/><line x1="804.39" y1="314.4" x2="804.39" y2="322.4" class="w"/><rect x="802.99" y="316.4" width="2.8" height="4.7" fill="#1fb31f"/><line x1="807.67" y1="314.0" x2="807.67" y2="317.0" class="w"/><rect x="806.27" y="315.0" width="2.8" height="1.4" fill="#1fb31f"/><line x1="810.94" y1="309.0" x2="810.94" y2="316.0" class="w"/><rect x="809.54" y="309.7" width="2.8" height="6.0" fill="#1fb31f"/><line x1="814.22" y1="293.2" x2="814.22" y2="319.7" class="w"/><rect x="812.82" y="295.2" width="2.8" height="13.8" fill="#1fb31f"/><line x1="817.50" y1="291.1" x2="817.50" y2="297.2" class="w"/><rect x="816.10" y="294.2" width="2.8" height="1.6" fill="#1fb31f"/></g>
<g fill="none" stroke-width="1" stroke-linejoin="round">
<path d="M0.00,268.50 C0.67,269.00 2.75,271.58 4.00,271.50 C5.25,271.42 6.33,269.08 7.50,268.00 C8.67,266.92 9.92,265.08 11.00,265.00 C12.08,264.92 13.00,266.50 14.00,267.50 C15.00,268.50 15.33,269.00 17.00,271.00 C18.67,273.00 21.83,278.25 24.00,279.50 C26.17,280.75 28.17,278.78 30.00,278.50 C31.83,278.22 33.00,277.88 35.00,277.80 C37.00,277.72 40.00,278.22 42.00,278.00 C44.00,277.78 45.67,277.50 47.00,276.50 C48.33,275.50 48.95,274.58 50.00,272.00 C51.05,269.42 52.18,264.83 53.30,261.00 C54.42,257.17 55.58,252.50 56.70,249.00 C57.82,245.50 58.88,242.30 60.00,240.00 C61.12,237.70 62.28,236.86 63.40,235.20 C64.52,233.54 65.61,231.80 66.70,230.03 C67.80,228.27 68.89,225.59 69.98,224.61 C71.07,223.62 72.17,224.36 73.26,224.14 C74.35,223.92 75.44,223.87 76.54,223.29 C77.63,222.71 78.72,220.93 79.82,220.65 C80.91,220.36 82.00,221.49 83.09,221.58 C84.19,221.67 85.28,221.20 86.37,221.19 C87.47,221.19 88.56,221.75 89.65,221.54 C90.75,221.34 91.84,220.09 92.93,219.94 C94.02,219.79 95.12,220.47 96.21,220.65 C97.30,220.83 98.40,220.40 99.49,221.02 C100.58,221.64 101.67,223.53 102.77,224.37 C103.86,225.21 104.95,226.40 106.05,226.07 C107.14,225.73 108.23,223.62 109.32,222.37 C110.42,221.11 111.51,219.90 112.60,218.54 C113.70,217.17 114.79,214.83 115.88,214.19 C116.97,213.55 118.07,214.54 119.16,214.70 C120.25,214.86 121.35,214.57 122.44,215.16 C123.53,215.75 124.62,217.29 125.72,218.24 C126.81,219.19 127.90,219.90 129.00,220.86 C130.09,221.81 131.18,222.20 132.27,223.96 C133.37,225.73 134.46,229.86 135.55,231.46 C136.65,233.06 137.74,232.75 138.83,233.56 C139.92,234.37 141.02,235.31 142.11,236.32 C143.20,237.34 144.30,239.33 145.39,239.64 C146.48,239.94 147.57,238.45 148.67,238.15 C149.76,237.86 150.85,238.31 151.95,237.85 C153.04,237.40 154.13,236.14 155.22,235.44 C156.32,234.74 157.41,235.20 158.50,233.65 C159.60,232.10 160.69,228.03 161.78,226.13 C162.87,224.23 163.97,224.44 165.06,222.25 C166.15,220.06 167.25,215.75 168.34,213.01 C169.43,210.27 170.52,207.37 171.62,205.82 C172.71,204.27 173.80,204.26 174.90,203.69 C175.99,203.12 177.08,202.55 178.17,202.39 C179.27,202.24 180.36,204.25 181.45,202.78 C182.55,201.32 183.64,196.59 184.73,193.58 C185.82,190.58 186.92,186.81 188.01,184.75 C189.10,182.70 190.20,182.28 191.29,181.26 C192.38,180.25 193.47,179.14 194.57,178.65 C195.66,178.16 196.75,179.97 197.85,178.30 C198.94,176.63 200.03,172.02 201.12,168.63 C202.22,165.24 203.31,161.27 204.40,157.95 C205.50,154.63 206.59,152.38 207.68,148.73 C208.77,145.09 209.87,139.75 210.96,136.08 C212.05,132.42 213.15,129.87 214.24,126.74 C215.33,123.61 216.42,119.89 217.52,117.29 C218.61,114.70 219.70,112.47 220.80,111.20 C221.89,109.92 222.98,110.33 224.07,109.63 C225.17,108.92 226.26,107.37 227.35,106.95 C228.45,106.52 229.54,107.28 230.63,107.07 C231.72,106.86 232.82,105.88 233.91,105.66 C235.00,105.44 236.10,105.05 237.19,105.76 C238.28,106.48 239.37,108.05 240.47,109.98 C241.56,111.90 242.65,113.54 243.75,117.31 C244.84,121.08 245.93,129.96 247.03,132.61 C248.12,135.26 249.21,133.29 250.30,133.23 C251.40,133.16 252.49,132.22 253.58,132.23 C254.68,132.24 255.77,133.09 256.86,133.31 C257.95,133.52 259.05,133.45 260.14,133.51 C261.23,133.57 262.33,133.84 263.42,133.67 C264.51,133.49 265.60,132.77 266.70,132.46 C267.79,132.15 268.88,132.26 269.98,131.81 C271.07,131.36 272.16,129.76 273.25,129.75 C274.35,129.75 275.44,131.45 276.53,131.75 C277.63,132.06 278.72,130.76 279.81,131.59 C280.90,132.42 282.00,135.41 283.09,136.72 C284.18,138.04 285.28,139.09 286.37,139.47 C287.46,139.85 288.55,139.18 289.65,139.01 C290.74,138.83 291.83,138.55 292.93,138.43 C294.02,138.31 295.11,138.29 296.20,138.28 C297.30,138.27 298.39,138.44 299.48,138.37 C300.58,138.31 301.67,138.11 302.76,137.90 C303.85,137.68 304.95,137.11 306.04,137.07 C307.13,137.02 308.23,137.76 309.32,137.62 C310.41,137.48 311.50,136.33 312.60,136.26 C313.69,136.19 314.78,136.41 315.88,137.20 C316.97,137.99 318.06,140.00 319.15,140.98 C320.25,141.97 321.34,143.04 322.43,143.11 C323.53,143.17 324.62,142.01 325.71,141.35 C326.80,140.69 327.90,139.52 328.99,139.13 C330.08,138.73 331.18,138.83 332.27,138.98 C333.36,139.13 334.45,139.46 335.55,140.03 C336.64,140.60 337.73,141.79 338.83,142.40 C339.92,143.00 341.01,142.68 342.10,143.68 C343.20,144.67 344.29,147.52 345.38,148.36 C346.48,149.21 347.57,148.59 348.66,148.74 C349.75,148.90 350.85,149.55 351.94,149.30 C353.03,149.06 354.13,147.55 355.22,147.28 C356.31,147.02 357.40,147.64 358.50,147.71 C359.59,147.78 360.68,147.63 361.78,147.71 C362.87,147.80 363.96,147.88 365.05,148.21 C366.15,148.54 367.24,149.09 368.33,149.71 C369.43,150.33 370.52,150.98 371.61,151.94 C372.70,152.89 373.80,154.07 374.89,155.45 C375.98,156.83 377.08,159.08 378.17,160.21 C379.26,161.35 380.35,161.63 381.45,162.27 C382.54,162.92 383.63,163.47 384.73,164.09 C385.82,164.71 386.91,165.98 388.00,165.99 C389.10,166.00 390.19,164.77 391.28,164.16 C392.38,163.56 393.47,163.05 394.56,162.35 C395.65,161.65 396.75,160.64 397.84,159.98 C398.93,159.31 400.03,158.59 401.12,158.38 C402.21,158.17 403.30,158.47 404.40,158.70 C405.49,158.93 406.58,159.52 407.68,159.75 C408.77,159.99 409.86,160.09 410.95,160.11 C412.05,160.14 413.14,159.96 414.23,159.89 C415.33,159.81 416.42,160.77 417.51,159.67 C418.61,158.58 419.70,154.93 420.79,153.31 C421.88,151.69 422.98,151.34 424.07,149.94 C425.16,148.54 426.26,146.27 427.35,144.92 C428.44,143.58 429.53,142.54 430.63,141.87 C431.72,141.20 432.81,141.32 433.91,140.89 C435.00,140.45 436.09,139.43 437.18,139.25 C438.28,139.06 439.37,139.59 440.46,139.78 C441.56,139.96 442.65,140.23 443.74,140.37 C444.83,140.51 445.93,140.23 447.02,140.60 C448.11,140.97 449.21,141.77 450.30,142.60 C451.39,143.42 452.48,143.69 453.58,145.57 C454.67,147.45 455.76,150.94 456.86,153.88 C457.95,156.81 459.04,159.64 460.13,163.19 C461.23,166.75 462.32,171.02 463.41,175.19 C464.51,179.37 465.60,184.24 466.69,188.25 C467.78,192.26 468.88,195.58 469.97,199.27 C471.06,202.95 472.16,206.33 473.25,210.36 C474.34,214.39 475.43,219.08 476.53,223.45 C477.62,227.83 478.71,231.71 479.81,236.62 C480.90,241.53 481.99,251.22 483.08,252.92 C484.18,254.63 485.27,249.35 486.36,246.86 C487.46,244.37 488.55,240.95 489.64,237.96 C490.73,234.97 491.83,231.81 492.92,228.93 C494.01,226.06 495.11,222.28 496.20,220.70 C497.29,219.12 498.38,219.64 499.48,219.47 C500.57,219.30 501.66,219.66 502.76,219.70 C503.85,219.74 504.94,219.68 506.03,219.69 C507.13,219.70 508.22,220.64 509.31,219.76 C510.41,218.87 511.50,216.32 512.59,214.39 C513.68,212.46 514.78,209.73 515.87,208.20 C516.96,206.67 518.06,206.23 519.15,205.21 C520.24,204.19 521.33,203.17 522.43,202.07 C523.52,200.97 524.61,199.75 525.71,198.60 C526.80,197.45 527.89,196.01 528.98,195.18 C530.08,194.35 531.17,193.85 532.26,193.61 C533.36,193.37 534.45,194.25 535.54,193.75 C536.63,193.26 537.73,191.41 538.82,190.64 C539.91,189.87 541.01,189.22 542.10,189.15 C543.19,189.07 544.28,189.39 545.38,190.17 C546.47,190.95 547.56,192.04 548.66,193.81 C549.75,195.58 550.84,198.01 551.93,200.80 C553.03,203.59 554.12,206.58 555.21,210.55 C556.31,214.52 557.40,219.05 558.49,224.61 C559.58,230.18 560.68,238.52 561.77,243.94 C562.86,249.37 563.96,252.63 565.05,257.16 C566.14,261.70 567.23,265.60 568.33,271.16 C569.42,276.72 570.51,284.75 571.61,290.50 C572.70,296.25 573.79,302.32 574.88,305.67 C575.98,309.01 577.07,309.02 578.16,310.57 C579.26,312.13 580.35,312.91 581.44,315.00 C582.54,317.09 583.63,320.94 584.72,323.11 C585.81,325.29 586.91,326.97 588.00,328.07 C589.09,329.17 590.19,328.91 591.28,329.73 C592.37,330.56 593.46,331.28 594.56,333.01 C595.65,334.74 596.74,337.61 597.84,340.12 C598.93,342.62 600.02,346.38 601.11,348.04 C602.21,349.71 603.30,349.43 604.39,350.09 C605.49,350.76 606.58,351.16 607.67,352.06 C608.76,352.95 609.86,353.66 610.95,355.45 C612.04,357.23 613.14,360.37 614.23,362.76 C615.32,365.16 616.41,368.27 617.51,369.83 C618.60,371.38 619.69,371.24 620.79,372.10 C621.88,372.95 622.97,373.79 624.06,374.96 C625.16,376.12 626.25,378.15 627.34,379.07 C628.44,379.99 629.53,380.71 630.62,380.49 C631.71,380.28 632.81,378.15 633.90,377.78 C634.99,377.42 636.09,378.71 637.18,378.29 C638.27,377.87 639.36,376.90 640.46,375.27 C641.55,373.64 642.64,370.83 643.74,368.52 C644.83,366.21 645.92,363.91 647.01,361.43 C648.11,358.95 649.20,356.25 650.29,353.64 C651.39,351.03 652.48,348.32 653.57,345.76 C654.66,343.21 655.76,341.34 656.85,338.32 C657.94,335.29 659.04,330.30 660.13,327.60 C661.22,324.89 662.31,323.70 663.41,322.07 C664.50,320.44 665.59,319.14 666.69,317.82 C667.78,316.50 668.87,315.39 669.96,314.14 C671.06,312.89 672.15,311.07 673.24,310.33 C674.34,309.58 675.43,309.50 676.52,309.67 C677.61,309.84 678.71,310.40 679.80,311.35 C680.89,312.31 681.99,314.49 683.08,315.41 C684.17,316.32 685.26,315.97 686.36,316.83 C687.45,317.69 688.54,319.72 689.64,320.56 C690.73,321.39 691.82,321.32 692.91,321.84 C694.01,322.36 695.10,323.66 696.19,323.66 C697.29,323.66 698.38,322.18 699.47,321.83 C700.56,321.48 701.66,322.59 702.75,321.58 C703.84,320.56 704.94,317.22 706.03,315.74 C707.12,314.26 708.21,314.39 709.31,312.68 C710.40,310.96 711.49,307.09 712.59,305.46 C713.68,303.84 714.77,303.89 715.86,302.93 C716.96,301.96 718.05,300.47 719.14,299.67 C720.24,298.88 721.33,298.66 722.42,298.16 C723.51,297.66 724.61,297.37 725.70,296.67 C726.79,295.97 727.89,295.03 728.98,293.97 C730.07,292.91 731.16,291.35 732.26,290.32 C733.35,289.29 734.44,288.66 735.54,287.80 C736.63,286.94 737.72,285.94 738.81,285.15 C739.91,284.36 741.00,283.65 742.09,283.06 C743.19,282.46 744.28,281.98 745.37,281.58 C746.47,281.18 747.56,281.15 748.65,280.67 C749.74,280.20 750.84,278.93 751.93,278.73 C753.02,278.53 754.12,279.42 755.21,279.45 C756.30,279.49 757.39,279.01 758.49,278.93 C759.58,278.85 760.67,278.68 761.77,278.96 C762.86,279.25 763.95,280.16 765.04,280.64 C766.14,281.12 767.23,281.71 768.32,281.83 C769.42,281.94 770.51,281.76 771.60,281.33 C772.69,280.91 773.79,280.04 774.88,279.27 C775.97,278.51 777.07,277.77 778.16,276.74 C779.25,275.70 780.34,273.98 781.44,273.07 C782.53,272.17 783.62,271.82 784.72,271.30 C785.81,270.77 786.90,270.41 787.99,269.91 C789.09,269.40 790.18,268.74 791.27,268.26 C792.37,267.77 793.46,266.97 794.55,267.00 C795.64,267.03 796.74,268.05 797.83,268.43 C798.92,268.81 800.02,268.98 801.11,269.28 C802.20,269.59 803.29,270.02 804.39,270.29 C805.48,270.56 806.57,270.72 807.67,270.90 C808.76,271.09 809.85,271.16 810.94,271.40 C812.04,271.64 813.13,271.69 814.22,272.33 C815.32,272.97 816.95,274.75 817.50,275.23" stroke="#e59a63"/>
<path d="M0.00,344.20 C2.78,344.05 12.53,343.58 16.70,343.30 C20.87,343.02 22.50,342.55 25.00,342.50 C27.50,342.45 29.20,343.83 31.70,343.00 C34.20,342.17 37.37,338.97 40.00,337.50 C42.63,336.03 45.83,334.33 47.50,334.20 C49.17,334.07 49.03,335.32 50.00,336.70 C50.97,338.08 51.63,341.40 53.30,342.50 C54.97,343.60 58.32,343.88 60.00,343.30 C61.68,342.72 62.28,339.68 63.40,339.00 C64.52,338.32 65.61,339.45 66.70,339.24 C67.80,339.03 68.89,338.03 69.98,337.74 C71.07,337.46 72.17,337.65 73.26,337.54 C74.35,337.42 75.44,337.45 76.54,337.06 C77.63,336.67 78.72,336.43 79.82,335.20 C80.91,333.97 82.00,331.35 83.09,329.69 C84.19,328.03 85.28,326.94 86.37,325.24 C87.47,323.53 88.56,320.78 89.65,319.47 C90.75,318.15 91.84,318.11 92.93,317.32 C94.02,316.52 95.12,315.33 96.21,314.69 C97.30,314.05 98.40,314.72 99.49,313.49 C100.58,312.26 101.67,308.86 102.77,307.31 C103.86,305.76 104.95,303.72 106.05,304.19 C107.14,304.66 108.23,308.05 109.32,310.14 C110.42,312.23 111.51,313.89 112.60,316.72 C113.70,319.56 114.79,323.77 115.88,327.15 C116.97,330.52 118.07,333.55 119.16,336.97 C120.25,340.39 121.35,344.85 122.44,347.67 C123.53,350.49 124.62,351.88 125.72,353.92 C126.81,355.95 127.90,357.98 129.00,359.88 C130.09,361.79 131.18,364.76 132.27,365.36 C133.37,365.95 134.46,363.76 135.55,363.45 C136.65,363.14 137.74,363.50 138.83,363.50 C139.92,363.51 141.02,363.72 142.11,363.49 C143.20,363.25 144.30,362.22 145.39,362.08 C146.48,361.94 147.57,362.53 148.67,362.65 C149.76,362.76 150.85,362.55 151.95,362.79 C153.04,363.02 154.13,363.67 155.22,364.04 C156.32,364.41 157.41,364.29 158.50,365.00 C159.60,365.70 160.69,367.57 161.78,368.27 C162.87,368.96 163.97,368.47 165.06,369.15 C166.15,369.82 167.25,371.54 168.34,372.31 C169.43,373.08 170.52,374.05 171.62,373.75 C172.71,373.45 173.80,371.74 174.90,370.54 C175.99,369.33 177.08,368.06 178.17,366.51 C179.27,364.95 180.36,362.76 181.45,361.20 C182.55,359.64 183.64,358.99 184.73,357.15 C185.82,355.30 186.92,352.83 188.01,350.15 C189.10,347.46 190.20,344.41 191.29,341.06 C192.38,337.70 193.47,334.22 194.57,330.00 C195.66,325.78 196.75,318.58 197.85,315.75 C198.94,312.92 200.03,313.91 201.12,313.00 C202.22,312.09 203.31,311.60 204.40,310.28 C205.50,308.96 206.59,306.07 207.68,305.08 C208.77,304.09 209.87,304.85 210.96,304.35 C212.05,303.84 213.15,302.84 214.24,302.03 C215.33,301.22 216.42,300.45 217.52,299.48 C218.61,298.50 219.70,297.49 220.80,296.15 C221.89,294.82 222.98,292.90 224.07,291.47 C225.17,290.04 226.26,289.48 227.35,287.57 C228.45,285.67 229.54,281.90 230.63,280.03 C231.72,278.16 232.82,277.75 233.91,276.37 C235.00,274.99 236.10,274.61 237.19,271.77 C238.28,268.92 239.37,263.68 240.47,259.30 C241.56,254.92 242.65,251.97 243.75,245.50 C244.84,239.02 245.93,224.88 247.03,220.45 C248.12,216.02 249.21,218.71 250.30,218.91 C251.40,219.11 252.49,221.61 253.58,221.66 C254.68,221.70 255.77,220.09 256.86,219.18 C257.95,218.28 259.05,217.01 260.14,216.23 C261.23,215.45 262.33,214.81 263.42,214.50 C264.51,214.19 265.60,214.37 266.70,214.38 C267.79,214.39 268.88,214.36 269.98,214.53 C271.07,214.71 272.16,215.44 273.25,215.43 C274.35,215.42 275.44,214.62 276.53,214.48 C277.63,214.33 278.72,214.73 279.81,214.55 C280.90,214.38 282.00,213.65 283.09,213.42 C284.18,213.19 285.28,213.30 286.37,213.17 C287.46,213.04 288.55,212.72 289.65,212.63 C290.74,212.54 291.83,212.67 292.93,212.63 C294.02,212.58 295.11,212.38 296.20,212.36 C297.30,212.34 298.39,212.70 299.48,212.50 C300.58,212.29 301.67,211.52 302.76,211.14 C303.85,210.76 304.95,211.18 306.04,210.22 C307.13,209.26 308.23,206.40 309.32,205.39 C310.41,204.38 311.50,204.95 312.60,204.17 C313.69,203.40 314.78,202.44 315.88,200.73 C316.97,199.02 318.06,195.69 319.15,193.90 C320.25,192.11 321.34,190.03 322.43,190.00 C323.53,189.98 324.62,192.41 325.71,193.76 C326.80,195.10 327.90,196.72 328.99,198.07 C330.08,199.42 331.18,200.73 332.27,201.85 C333.36,202.98 334.45,203.54 335.55,204.80 C336.64,206.06 337.73,207.79 338.83,209.43 C339.92,211.08 341.01,213.55 342.10,214.65 C343.20,215.75 344.29,215.65 345.38,216.06 C346.48,216.46 347.57,216.84 348.66,217.11 C349.75,217.37 350.85,217.42 351.94,217.63 C353.03,217.84 354.13,218.27 355.22,218.37 C356.31,218.46 357.40,218.24 358.50,218.22 C359.59,218.19 360.68,218.13 361.78,218.22 C362.87,218.30 363.96,218.52 365.05,218.73 C366.15,218.94 367.24,219.16 368.33,219.49 C369.43,219.82 370.52,220.54 371.61,220.72 C372.70,220.90 373.80,220.56 374.89,220.57 C375.98,220.58 377.08,220.41 378.17,220.81 C379.26,221.20 380.35,222.39 381.45,222.92 C382.54,223.45 383.63,223.68 384.73,224.00 C385.82,224.32 386.91,224.67 388.00,224.85 C389.10,225.04 390.19,225.12 391.28,225.12 C392.38,225.11 393.47,224.86 394.56,224.84 C395.65,224.82 396.75,225.00 397.84,224.99 C398.93,224.99 400.03,225.23 401.12,224.79 C402.21,224.35 403.30,223.22 404.40,222.35 C405.49,221.48 406.58,220.23 407.68,219.57 C408.77,218.90 409.86,218.34 410.95,218.37 C412.05,218.40 413.14,219.13 414.23,219.75 C415.33,220.38 416.42,218.87 417.51,222.12 C418.61,225.37 419.70,234.16 420.79,239.26 C421.88,244.36 422.98,247.84 424.07,252.73 C425.16,257.62 426.26,263.88 427.35,268.58 C428.44,273.28 429.53,277.30 430.63,280.93 C431.72,284.55 432.81,287.06 433.91,290.32 C435.00,293.59 436.09,297.45 437.18,300.53 C438.28,303.61 439.37,306.35 440.46,308.81 C441.56,311.28 442.65,313.05 443.74,315.34 C444.83,317.63 445.93,320.41 447.02,322.53 C448.11,324.66 449.21,326.52 450.30,328.07 C451.39,329.63 452.48,331.16 453.58,331.89 C454.67,332.62 455.76,332.38 456.86,332.45 C457.95,332.53 459.04,332.75 460.13,332.32 C461.23,331.89 462.32,330.89 463.41,329.89 C464.51,328.88 465.60,327.56 466.69,326.27 C467.78,324.98 468.88,323.52 469.97,322.14 C471.06,320.77 472.16,319.79 473.25,318.02 C474.34,316.24 475.43,313.92 476.53,311.50 C477.62,309.07 478.71,306.76 479.81,303.46 C480.90,300.16 481.99,293.11 483.08,291.72 C484.18,290.32 485.27,293.74 486.36,295.11 C487.46,296.48 488.55,298.70 489.64,299.96 C490.73,301.22 491.83,301.90 492.92,302.66 C494.01,303.41 495.11,304.45 496.20,304.50 C497.29,304.55 498.38,303.75 499.48,302.98 C500.57,302.21 501.66,300.91 502.76,299.89 C503.85,298.87 504.94,297.42 506.03,296.88 C507.13,296.35 508.22,295.30 509.31,296.69 C510.41,298.09 511.50,302.01 512.59,305.24 C513.68,308.46 514.78,313.02 515.87,316.04 C516.96,319.06 518.06,320.61 519.15,323.34 C520.24,326.07 521.33,329.25 522.43,332.42 C523.52,335.59 524.61,338.90 525.71,342.38 C526.80,345.86 527.89,350.13 528.98,353.32 C530.08,356.51 531.17,358.83 532.26,361.50 C533.36,364.17 534.45,365.77 535.54,369.32 C536.63,372.86 537.73,378.43 538.82,382.77 C539.91,387.11 541.01,391.45 542.10,395.36 C543.19,399.28 544.28,403.25 545.38,406.26 C546.47,409.27 547.56,411.23 548.66,413.41 C549.75,415.60 550.84,417.29 551.93,419.38 C553.03,421.47 554.12,424.34 555.21,425.96 C556.31,427.57 557.40,429.01 558.49,429.07 C559.58,429.13 560.68,426.58 561.77,426.32 C562.86,426.06 563.96,427.40 565.05,427.51 C566.14,427.61 567.23,428.02 568.33,426.96 C569.42,425.89 570.51,422.70 571.61,421.13 C572.70,419.56 573.79,417.50 574.88,417.54 C575.98,417.58 577.07,420.19 578.16,421.37 C579.26,422.54 580.35,423.91 581.44,424.61 C582.54,425.31 583.63,424.51 584.72,425.57 C585.81,426.62 586.91,428.44 588.00,430.93 C589.09,433.42 590.19,437.89 591.28,440.52 C592.37,443.15 593.46,445.24 594.56,446.72 C595.65,448.19 596.74,448.53 597.84,449.36 C598.93,450.20 600.02,450.47 601.11,451.74 C602.21,453.00 603.30,455.20 604.39,456.96 C605.49,458.71 606.58,460.84 607.67,462.24 C608.76,463.65 609.86,464.90 610.95,465.39 C612.04,465.88 613.14,465.38 614.23,465.20 C615.32,465.01 616.41,464.52 617.51,464.27 C618.60,464.03 619.69,463.87 620.79,463.72 C621.88,463.58 622.97,463.75 624.06,463.41 C625.16,463.08 626.25,462.10 627.34,461.72 C628.44,461.34 629.53,460.98 630.62,461.14 C631.71,461.29 632.81,462.44 633.90,462.65 C634.99,462.85 636.09,462.16 637.18,462.39 C638.27,462.61 639.36,463.20 640.46,464.00 C641.55,464.80 642.64,466.11 643.74,467.17 C644.83,468.23 645.92,469.31 647.01,470.34 C648.11,471.38 649.20,472.74 650.29,473.38 C651.39,474.02 652.48,474.42 653.57,474.19 C654.66,473.95 655.76,472.32 656.85,471.96 C657.94,471.61 659.04,472.52 660.13,472.03 C661.22,471.55 662.31,470.42 663.41,469.06 C664.50,467.70 665.59,465.82 666.69,463.89 C667.78,461.96 668.87,459.86 669.96,457.47 C671.06,455.08 672.15,452.40 673.24,449.53 C674.34,446.67 675.43,443.44 676.52,440.26 C677.61,437.08 678.71,433.80 679.80,430.46 C680.89,427.12 681.99,422.87 683.08,420.22 C684.17,417.58 685.26,417.12 686.36,414.59 C687.45,412.06 688.54,407.96 689.64,405.05 C690.73,402.14 691.82,399.77 692.91,397.13 C694.01,394.49 695.10,391.02 696.19,389.24 C697.29,387.46 698.38,387.92 699.47,386.45 C700.56,384.98 701.66,381.60 702.75,380.40 C703.84,379.21 704.94,379.79 706.03,379.27 C707.12,378.74 708.21,377.46 709.31,377.26 C710.40,377.07 711.49,378.24 712.59,378.10 C713.68,377.96 714.77,376.93 715.86,376.42 C716.96,375.91 718.05,375.48 719.14,375.02 C720.24,374.55 721.33,373.84 722.42,373.62 C723.51,373.40 724.61,373.89 725.70,373.70 C726.79,373.52 727.89,372.84 728.98,372.52 C730.07,372.20 731.16,372.05 732.26,371.78 C733.35,371.51 734.44,371.02 735.54,370.90 C736.63,370.78 737.72,371.24 738.81,371.05 C739.91,370.86 741.00,370.54 742.09,369.76 C743.19,368.99 744.28,368.14 745.37,366.41 C746.47,364.68 747.56,361.66 748.65,359.38 C749.74,357.10 750.84,355.14 751.93,352.71 C753.02,350.28 754.12,346.82 755.21,344.78 C756.30,342.73 757.39,342.02 758.49,340.44 C759.58,338.86 760.67,336.85 761.77,335.31 C762.86,333.77 763.95,332.36 765.04,331.20 C766.14,330.04 767.23,328.53 768.32,328.33 C769.42,328.14 770.51,329.14 771.60,330.05 C772.69,330.95 773.79,332.00 774.88,333.76 C775.97,335.52 777.07,338.29 778.16,340.62 C779.25,342.95 780.34,345.66 781.44,347.75 C782.53,349.83 783.62,351.59 784.72,353.13 C785.81,354.68 786.90,355.51 787.99,357.00 C789.09,358.49 790.18,360.24 791.27,362.06 C792.37,363.88 793.46,366.75 794.55,367.92 C795.64,369.09 796.74,368.82 797.83,369.08 C798.92,369.34 800.02,369.39 801.11,369.49 C802.20,369.58 803.29,369.59 804.39,369.62 C805.48,369.66 806.57,369.71 807.67,369.72 C808.76,369.73 809.85,369.76 810.94,369.69 C812.04,369.62 813.13,369.61 814.22,369.30 C815.32,368.99 816.95,368.08 817.50,367.84" stroke="#e59a63"/>
<path d="M0.00,321.00 C0.23,320.88 -0.02,321.35 1.40,320.30 C2.82,319.25 6.37,316.23 8.50,314.70 C10.63,313.17 11.45,312.22 14.20,311.10 C16.95,309.98 20.70,308.93 25.00,308.00 C29.30,307.07 35.88,306.28 40.00,305.50 C44.12,304.72 46.90,304.62 49.70,303.30 C52.50,301.98 53.25,299.48 56.80,297.60 C60.35,295.72 66.27,293.30 71.00,292.00 C75.73,290.70 80.93,290.28 85.20,289.80 C89.47,289.32 92.80,288.98 96.60,289.10 C100.40,289.22 103.98,289.78 108.00,290.50 C112.02,291.22 116.68,292.57 120.70,293.40 C124.72,294.23 128.55,295.38 132.10,295.50 C135.65,295.62 137.97,295.40 142.00,294.10 C146.03,292.80 153.00,289.05 156.30,287.70 C159.60,286.35 160.34,286.45 161.80,286.00 C163.26,285.55 163.97,285.46 165.06,285.02 C166.15,284.57 167.25,283.78 168.34,283.35 C169.43,282.92 170.52,282.64 171.62,282.43 C172.71,282.22 173.80,282.24 174.90,282.08 C175.99,281.92 177.08,281.71 178.17,281.48 C179.27,281.26 180.36,281.20 181.45,280.73 C182.55,280.26 183.64,279.40 184.73,278.65 C185.82,277.89 186.92,276.87 188.01,276.20 C189.10,275.52 190.20,275.19 191.29,274.60 C192.38,274.01 193.47,273.31 194.57,272.66 C195.66,272.01 196.75,271.50 197.85,270.69 C198.94,269.89 200.03,268.79 201.12,267.83 C202.22,266.87 203.31,265.89 204.40,264.93 C205.50,263.97 206.59,263.06 207.68,262.06 C208.77,261.06 209.87,259.88 210.96,258.95 C212.05,258.02 213.15,257.23 214.24,256.50 C215.33,255.78 216.42,255.20 217.52,254.60 C218.61,254.00 219.70,253.40 220.80,252.92 C221.89,252.43 222.98,252.18 224.07,251.70 C225.17,251.23 226.26,250.59 227.35,250.07 C228.45,249.55 229.54,249.05 230.63,248.58 C231.72,248.12 232.82,247.78 233.91,247.29 C235.00,246.79 236.10,246.17 237.19,245.60 C238.28,245.03 239.37,244.32 240.47,243.87 C241.56,243.41 242.65,243.34 243.75,242.87 C244.84,242.41 245.93,241.60 247.03,241.09 C248.12,240.58 249.21,240.18 250.30,239.79 C251.40,239.40 252.49,239.13 253.58,238.77 C254.68,238.42 255.77,238.18 256.86,237.64 C257.95,237.11 259.05,236.25 260.14,235.54 C261.23,234.84 262.33,234.21 263.42,233.43 C264.51,232.65 265.60,231.74 266.70,230.86 C267.79,229.98 268.88,229.19 269.98,228.14 C271.07,227.10 272.16,225.76 273.25,224.59 C274.35,223.43 275.44,222.33 276.53,221.14 C277.63,219.96 278.72,218.60 279.81,217.46 C280.90,216.32 282.00,215.39 283.09,214.29 C284.18,213.20 285.28,211.99 286.37,210.88 C287.46,209.76 288.55,208.72 289.65,207.60 C290.74,206.47 291.83,205.25 292.93,204.13 C294.02,203.00 295.11,201.79 296.20,200.85 C297.30,199.90 298.39,199.29 299.48,198.48 C300.58,197.67 301.67,196.85 302.76,196.00 C303.85,195.15 304.95,194.17 306.04,193.36 C307.13,192.55 308.23,191.86 309.32,191.13 C310.41,190.41 311.50,189.66 312.60,189.02 C313.69,188.37 314.78,187.77 315.88,187.25 C316.97,186.72 318.06,186.31 319.15,185.85 C320.25,185.40 321.34,184.90 322.43,184.54 C323.53,184.17 324.62,184.01 325.71,183.69 C326.80,183.36 327.90,182.87 328.99,182.59 C330.08,182.30 331.18,182.19 332.27,181.96 C333.36,181.73 334.45,181.50 335.55,181.20 C336.64,180.89 337.73,180.47 338.83,180.11 C339.92,179.75 341.01,179.46 342.10,179.03 C343.20,178.60 344.29,177.83 345.38,177.55 C346.48,177.26 347.57,177.36 348.66,177.32 C349.75,177.27 350.85,177.46 351.94,177.28 C353.03,177.11 354.13,176.54 355.22,176.26 C356.31,175.98 357.40,175.76 358.50,175.59 C359.59,175.41 360.68,175.23 361.78,175.22 C362.87,175.21 363.96,175.38 365.05,175.54 C366.15,175.70 367.24,175.93 368.33,176.19 C369.43,176.46 370.52,176.79 371.61,177.13 C372.70,177.48 373.80,177.86 374.89,178.25 C375.98,178.64 377.08,179.02 378.17,179.47 C379.26,179.91 380.35,180.51 381.45,180.93 C382.54,181.35 383.63,181.74 384.73,182.00 C385.82,182.26 386.91,182.38 388.00,182.48 C389.10,182.59 390.19,182.62 391.28,182.64 C392.38,182.66 393.47,182.62 394.56,182.60 C395.65,182.59 396.75,182.60 397.84,182.55 C398.93,182.50 400.03,182.34 401.12,182.32 C402.21,182.31 403.30,182.47 404.40,182.47 C405.49,182.47 406.58,182.30 407.68,182.33 C408.77,182.36 409.86,182.55 410.95,182.63 C412.05,182.71 413.14,182.78 414.23,182.82 C415.33,182.86 416.42,182.62 417.51,182.86 C418.61,183.11 419.70,183.73 420.79,184.28 C421.88,184.83 422.98,185.50 424.07,186.17 C425.16,186.84 426.26,187.53 427.35,188.29 C428.44,189.05 429.53,189.92 430.63,190.73 C431.72,191.54 432.81,192.28 433.91,193.17 C435.00,194.05 436.09,195.13 437.18,196.05 C438.28,196.98 439.37,197.83 440.46,198.72 C441.56,199.61 442.65,200.58 443.74,201.38 C444.83,202.18 445.93,202.83 447.02,203.53 C448.11,204.23 449.21,204.92 450.30,205.61 C451.39,206.29 452.48,206.97 453.58,207.65 C454.67,208.33 455.76,209.04 456.86,209.69 C457.95,210.35 459.04,210.96 460.13,211.58 C461.23,212.19 462.32,212.75 463.41,213.39 C464.51,214.03 465.60,214.77 466.69,215.42 C467.78,216.07 468.88,216.63 469.97,217.29 C471.06,217.96 472.16,218.70 473.25,219.41 C474.34,220.11 475.43,220.90 476.53,221.54 C477.62,222.18 478.71,222.70 479.81,223.25 C480.90,223.79 481.99,224.35 483.08,224.82 C484.18,225.28 485.27,225.73 486.36,226.05 C487.46,226.37 488.55,226.55 489.64,226.73 C490.73,226.92 491.83,227.02 492.92,227.17 C494.01,227.31 495.11,227.35 496.20,227.61 C497.29,227.86 498.38,228.36 499.48,228.69 C500.57,229.02 501.66,229.33 502.76,229.61 C503.85,229.89 504.94,230.01 506.03,230.37 C507.13,230.73 508.22,231.13 509.31,231.79 C510.41,232.44 511.50,233.41 512.59,234.29 C513.68,235.17 514.78,236.08 515.87,237.07 C516.96,238.06 518.06,239.17 519.15,240.23 C520.24,241.28 521.33,242.34 522.43,243.40 C523.52,244.46 524.61,245.54 525.71,246.59 C526.80,247.64 527.89,248.70 528.98,249.70 C530.08,250.71 531.17,251.66 532.26,252.60 C533.36,253.55 534.45,254.33 535.54,255.37 C536.63,256.42 537.73,257.74 538.82,258.88 C539.91,260.03 541.01,261.13 542.10,262.23 C543.19,263.34 544.28,264.43 545.38,265.50 C546.47,266.56 547.56,267.57 548.66,268.64 C549.75,269.71 550.84,270.66 551.93,271.92 C553.03,273.17 554.12,274.76 555.21,276.18 C556.31,277.60 557.40,279.05 558.49,280.46 C559.58,281.88 560.68,283.24 561.77,284.66 C562.86,286.08 563.96,287.60 565.05,288.99 C566.14,290.38 567.23,291.71 568.33,293.02 C569.42,294.33 570.51,295.55 571.61,296.83 C572.70,298.12 573.79,299.41 574.88,300.73 C575.98,302.05 577.07,303.43 578.16,304.75 C579.26,306.06 580.35,307.52 581.44,308.63 C582.54,309.75 583.63,310.44 584.72,311.45 C585.81,312.46 586.91,313.59 588.00,314.67 C589.09,315.75 590.19,316.87 591.28,317.94 C592.37,319.01 593.46,320.04 594.56,321.09 C595.65,322.14 596.74,323.21 597.84,324.26 C598.93,325.30 600.02,326.32 601.11,327.37 C602.21,328.43 603.30,329.48 604.39,330.58 C605.49,331.67 606.58,332.88 607.67,333.95 C608.76,335.03 609.86,336.01 610.95,337.04 C612.04,338.06 613.14,339.07 614.23,340.10 C615.32,341.13 616.41,342.25 617.51,343.25 C618.60,344.24 619.69,345.11 620.79,346.08 C621.88,347.04 622.97,348.08 624.06,349.04 C625.16,349.99 626.25,350.91 627.34,351.81 C628.44,352.70 629.53,353.58 630.62,354.41 C631.71,355.25 632.81,356.01 633.90,356.82 C634.99,357.64 636.09,358.50 637.18,359.29 C638.27,360.09 639.36,360.83 640.46,361.60 C641.55,362.36 642.64,363.12 643.74,363.87 C644.83,364.61 645.92,365.29 647.01,366.06 C648.11,366.83 649.20,367.62 650.29,368.46 C651.39,369.30 652.48,370.21 653.57,371.08 C654.66,371.95 655.76,372.86 656.85,373.68 C657.94,374.49 659.04,375.26 660.13,375.98 C661.22,376.70 662.31,377.35 663.41,377.99 C664.50,378.63 665.59,379.20 666.69,379.80 C667.78,380.40 668.87,381.11 669.96,381.58 C671.06,382.06 672.15,382.38 673.24,382.63 C674.34,382.89 675.43,382.93 676.52,383.10 C677.61,383.26 678.71,383.35 679.80,383.61 C680.89,383.87 681.99,384.35 683.08,384.66 C684.17,384.97 685.26,385.25 686.36,385.46 C687.45,385.68 688.54,385.89 689.64,385.96 C690.73,386.03 691.82,385.90 692.91,385.90 C694.01,385.90 695.10,385.98 696.19,385.97 C697.29,385.96 698.38,386.03 699.47,385.87 C700.56,385.71 701.66,385.37 702.75,385.01 C703.84,384.64 704.94,384.10 706.03,383.70 C707.12,383.29 708.21,382.96 709.31,382.57 C710.40,382.18 711.49,381.71 712.59,381.33 C713.68,380.95 714.77,380.73 715.86,380.29 C716.96,379.86 718.05,379.21 719.14,378.71 C720.24,378.21 721.33,377.75 722.42,377.30 C723.51,376.84 724.61,376.49 725.70,376.00 C726.79,375.51 727.89,374.92 728.98,374.36 C730.07,373.79 731.16,373.15 732.26,372.59 C733.35,372.03 734.44,371.56 735.54,371.00 C736.63,370.44 737.72,369.85 738.81,369.23 C739.91,368.61 741.00,367.93 742.09,367.27 C743.19,366.62 744.28,366.01 745.37,365.29 C746.47,364.57 747.56,363.83 748.65,362.94 C749.74,362.05 750.84,360.98 751.93,359.95 C753.02,358.92 754.12,357.78 755.21,356.76 C756.30,355.74 757.39,354.80 758.49,353.83 C759.58,352.86 760.67,351.85 761.77,350.93 C762.86,350.00 763.95,349.16 765.04,348.28 C766.14,347.39 767.23,346.49 768.32,345.63 C769.42,344.77 770.51,343.88 771.60,343.11 C772.69,342.34 773.79,341.66 774.88,341.01 C775.97,340.36 777.07,339.77 778.16,339.21 C779.25,338.65 780.34,338.10 781.44,337.64 C782.53,337.18 783.62,336.87 784.72,336.43 C785.81,336.00 786.90,335.43 787.99,335.00 C789.09,334.58 790.18,334.24 791.27,333.90 C792.37,333.57 793.46,333.33 794.55,333.01 C795.64,332.70 796.74,332.41 797.83,332.01 C798.92,331.61 800.02,331.06 801.11,330.62 C802.20,330.17 803.29,329.75 804.39,329.36 C805.48,328.97 806.57,328.63 807.67,328.26 C808.76,327.89 809.85,327.55 810.94,327.15 C812.04,326.75 813.13,326.29 814.22,325.86 C815.32,325.43 816.95,324.79 817.50,324.58" stroke="#8f8f8f"/>
<path d="M0.00,310.60 C0.23,310.57 -0.02,310.78 1.40,310.40 C2.82,310.02 6.37,308.53 8.50,308.30 C10.63,308.07 12.07,308.65 14.20,309.00 C16.33,309.35 18.93,310.05 21.30,310.40 C23.67,310.75 25.80,311.22 28.40,311.10 C31.00,310.98 34.53,310.28 36.90,309.70 C39.27,309.12 40.70,308.55 42.60,307.60 C44.50,306.65 46.40,305.67 48.30,304.00 C50.20,302.33 52.10,299.62 54.00,297.60 C55.90,295.58 58.13,293.65 59.70,291.90 C61.27,290.15 62.23,288.31 63.40,287.10 C64.57,285.89 65.61,285.62 66.70,284.63 C67.80,283.65 68.89,281.81 69.98,281.18 C71.07,280.54 72.17,281.01 73.26,280.84 C74.35,280.67 75.44,280.66 76.54,280.18 C77.63,279.69 78.72,278.68 79.82,277.93 C80.91,277.17 82.00,276.42 83.09,275.63 C84.19,274.85 85.28,274.07 86.37,273.22 C87.47,272.36 88.56,271.27 89.65,270.50 C90.75,269.74 91.84,269.10 92.93,268.63 C94.02,268.16 95.12,267.90 96.21,267.67 C97.30,267.44 98.40,267.56 99.49,267.25 C100.58,266.95 101.67,266.19 102.77,265.84 C103.86,265.49 104.95,265.06 106.05,265.13 C107.14,265.20 108.23,265.84 109.32,266.25 C110.42,266.67 111.51,266.89 112.60,267.63 C113.70,268.37 114.79,269.30 115.88,270.67 C116.97,272.04 118.07,274.04 119.16,275.83 C120.25,277.63 121.35,279.71 122.44,281.42 C123.53,283.12 124.62,284.59 125.72,286.08 C126.81,287.57 127.90,288.94 129.00,290.37 C130.09,291.80 131.18,293.48 132.27,294.66 C133.37,295.84 134.46,296.81 135.55,297.46 C136.65,298.10 137.74,298.12 138.83,298.53 C139.92,298.94 141.02,299.52 142.11,299.90 C143.20,300.29 144.30,300.78 145.39,300.86 C146.48,300.94 147.57,300.49 148.67,300.40 C149.76,300.31 150.85,300.43 151.95,300.32 C153.04,300.21 154.13,299.91 155.22,299.74 C156.32,299.57 157.41,299.75 158.50,299.32 C159.60,298.90 160.69,297.80 161.78,297.20 C162.87,296.60 163.97,296.46 165.06,295.70 C166.15,294.94 167.25,293.65 168.34,292.66 C169.43,291.67 170.52,290.71 171.62,289.78 C172.71,288.86 173.80,288.00 174.90,287.12 C175.99,286.23 177.08,285.30 178.17,284.45 C179.27,283.60 180.36,283.50 181.45,281.99 C182.55,280.48 183.64,277.79 184.73,275.37 C185.82,272.94 186.92,269.82 188.01,267.45 C189.10,265.08 190.20,263.35 191.29,261.16 C192.38,258.97 193.47,256.68 194.57,254.33 C195.66,251.97 196.75,249.28 197.85,247.03 C198.94,244.77 200.03,242.97 201.12,240.81 C202.22,238.66 203.31,236.43 204.40,234.12 C205.50,231.80 206.59,229.22 207.68,226.91 C208.77,224.59 209.87,222.30 210.96,220.22 C212.05,218.13 213.15,216.36 214.24,214.38 C215.33,212.41 216.42,210.17 217.52,208.38 C218.61,206.60 219.70,204.98 220.80,203.68 C221.89,202.37 222.98,201.62 224.07,200.55 C225.17,199.48 226.26,198.43 227.35,197.26 C228.45,196.09 229.54,194.59 230.63,193.55 C231.72,192.51 232.82,191.81 233.91,191.02 C235.00,190.22 236.10,189.83 237.19,188.77 C238.28,187.70 239.37,185.87 240.47,184.64 C241.56,183.41 242.65,182.76 243.75,181.41 C244.84,180.05 245.93,177.42 247.03,176.53 C248.12,175.64 249.21,176.00 250.30,176.07 C251.40,176.14 252.49,176.92 253.58,176.95 C254.68,176.97 255.77,176.59 256.86,176.25 C257.95,175.90 259.05,175.23 260.14,174.87 C261.23,174.51 262.33,174.33 263.42,174.09 C264.51,173.84 265.60,173.57 266.70,173.42 C267.79,173.27 268.88,173.31 269.98,173.17 C271.07,173.03 272.16,172.60 273.25,172.59 C274.35,172.58 275.44,173.03 276.53,173.11 C277.63,173.19 278.72,172.74 279.81,173.07 C280.90,173.40 282.00,174.53 283.09,175.07 C284.18,175.61 285.28,176.19 286.37,176.32 C287.46,176.44 288.55,175.95 289.65,175.82 C290.74,175.69 291.83,175.61 292.93,175.53 C294.02,175.45 295.11,175.34 296.20,175.32 C297.30,175.30 298.39,175.57 299.48,175.44 C300.58,175.30 301.67,174.82 302.76,174.52 C303.85,174.22 304.95,174.15 306.04,173.65 C307.13,173.14 308.23,172.08 309.32,171.51 C310.41,170.93 311.50,170.64 312.60,170.21 C313.69,169.79 314.78,169.43 315.88,168.97 C316.97,168.50 318.06,167.84 319.15,167.44 C320.25,167.04 321.34,166.54 322.43,166.56 C323.53,166.57 324.62,167.21 325.71,167.56 C326.80,167.90 327.90,168.12 328.99,168.60 C330.08,169.08 331.18,169.78 332.27,170.42 C333.36,171.05 334.45,171.50 335.55,172.42 C336.64,173.33 337.73,174.79 338.83,175.91 C339.92,177.04 341.01,178.12 342.10,179.16 C343.20,180.21 344.29,181.58 345.38,182.21 C346.48,182.84 347.57,182.72 348.66,182.92 C349.75,183.13 350.85,183.48 351.94,183.47 C353.03,183.45 354.13,182.91 355.22,182.82 C356.31,182.74 357.40,182.94 358.50,182.97 C359.59,182.99 360.68,182.88 361.78,182.97 C362.87,183.05 363.96,183.20 365.05,183.47 C366.15,183.74 367.24,184.12 368.33,184.60 C369.43,185.08 370.52,185.76 371.61,186.33 C372.70,186.90 373.80,187.31 374.89,188.01 C375.98,188.71 377.08,189.75 378.17,190.51 C379.26,191.27 380.35,192.01 381.45,192.59 C382.54,193.18 383.63,193.57 384.73,194.05 C385.82,194.52 386.91,195.32 388.00,195.42 C389.10,195.52 390.19,194.94 391.28,194.64 C392.38,194.34 393.47,193.95 394.56,193.60 C395.65,193.24 396.75,192.82 397.84,192.49 C398.93,192.15 400.03,191.91 401.12,191.59 C402.21,191.26 403.30,190.85 404.40,190.53 C405.49,190.20 406.58,189.87 407.68,189.66 C408.77,189.45 409.86,189.21 410.95,189.24 C412.05,189.27 413.14,189.54 414.23,189.82 C415.33,190.10 416.42,189.82 417.51,190.90 C418.61,191.97 419.70,194.55 420.79,196.29 C421.88,198.03 422.98,199.59 424.07,201.34 C425.16,203.08 426.26,205.07 427.35,206.75 C428.44,208.43 429.53,209.92 430.63,211.40 C431.72,212.88 432.81,214.19 433.91,215.61 C435.00,217.02 436.09,218.44 437.18,219.89 C438.28,221.34 439.37,222.97 440.46,224.29 C441.56,225.62 442.65,226.64 443.74,227.85 C444.83,229.07 445.93,230.32 447.02,231.56 C448.11,232.81 449.21,234.14 450.30,235.33 C451.39,236.53 452.48,237.42 453.58,238.73 C454.67,240.03 455.76,241.66 456.86,243.16 C457.95,244.67 459.04,246.19 460.13,247.75 C461.23,249.32 462.32,250.96 463.41,252.54 C464.51,254.12 465.60,255.90 466.69,257.26 C467.78,258.62 468.88,259.55 469.97,260.70 C471.06,261.86 472.16,263.06 473.25,264.19 C474.34,265.32 475.43,266.50 476.53,267.47 C477.62,268.45 478.71,269.23 479.81,270.04 C480.90,270.85 481.99,272.16 483.08,272.32 C484.18,272.48 485.27,271.54 486.36,270.98 C487.46,270.42 488.55,269.82 489.64,268.96 C490.73,268.09 491.83,266.85 492.92,265.79 C494.01,264.73 495.11,263.36 496.20,262.60 C497.29,261.84 498.38,261.69 499.48,261.23 C500.57,260.76 501.66,260.28 502.76,259.79 C503.85,259.30 504.94,258.55 506.03,258.28 C507.13,258.02 508.22,257.97 509.31,258.22 C510.41,258.48 511.50,259.17 512.59,259.81 C513.68,260.46 514.78,261.38 515.87,262.12 C516.96,262.86 518.06,263.42 519.15,264.27 C520.24,265.13 521.33,266.21 522.43,267.25 C523.52,268.28 524.61,269.32 525.71,270.49 C526.80,271.66 527.89,273.07 528.98,274.25 C530.08,275.43 531.17,276.34 532.26,277.56 C533.36,278.77 534.45,280.01 535.54,281.53 C536.63,283.06 537.73,284.92 538.82,286.71 C539.91,288.49 541.01,290.34 542.10,292.25 C543.19,294.17 544.28,296.32 545.38,298.22 C546.47,300.11 547.56,301.63 548.66,303.61 C549.75,305.59 550.84,307.65 551.93,310.09 C553.03,312.53 554.12,315.46 555.21,318.26 C556.31,321.05 557.40,324.03 558.49,326.84 C559.58,329.65 560.68,332.55 561.77,335.13 C562.86,337.71 563.96,340.01 565.05,342.34 C566.14,344.66 567.23,346.81 568.33,349.06 C569.42,351.31 570.51,353.72 571.61,355.81 C572.70,357.91 573.79,359.91 574.88,361.61 C575.98,363.30 577.07,364.60 578.16,365.97 C579.26,367.34 580.35,368.41 581.44,369.81 C582.54,371.20 583.63,372.72 584.72,374.34 C585.81,375.96 586.91,377.70 588.00,379.50 C589.09,381.30 590.19,383.40 591.28,385.12 C592.37,386.85 593.46,388.26 594.56,389.86 C595.65,391.47 596.74,393.07 597.84,394.74 C598.93,396.41 600.02,398.43 601.11,399.89 C602.21,401.35 603.30,402.31 604.39,403.52 C605.49,404.73 606.58,406.00 607.67,407.15 C608.76,408.30 609.86,409.28 610.95,410.42 C612.04,411.56 613.14,412.87 614.23,413.98 C615.32,415.08 616.41,416.39 617.51,417.05 C618.60,417.71 619.69,417.55 620.79,417.91 C621.88,418.27 622.97,418.77 624.06,419.19 C625.16,419.60 626.25,420.12 627.34,420.39 C628.44,420.67 629.53,420.84 630.62,420.81 C631.71,420.78 632.81,420.29 633.90,420.21 C634.99,420.14 636.09,420.44 637.18,420.34 C638.27,420.24 639.36,420.05 640.46,419.64 C641.55,419.22 642.64,418.47 643.74,417.84 C644.83,417.22 645.92,416.61 647.01,415.89 C648.11,415.16 649.20,414.50 650.29,413.51 C651.39,412.53 652.48,411.37 653.57,409.98 C654.66,408.58 655.76,406.83 656.85,405.14 C657.94,403.45 659.04,401.41 660.13,399.81 C661.22,398.22 662.31,397.06 663.41,395.56 C664.50,394.07 665.59,392.48 666.69,390.86 C667.78,389.23 668.87,387.63 669.96,385.81 C671.06,383.98 672.15,381.74 673.24,379.93 C674.34,378.12 675.43,376.47 676.52,374.96 C677.61,373.46 678.71,372.10 679.80,370.91 C680.89,369.71 681.99,368.68 683.08,367.81 C684.17,366.95 685.26,366.54 686.36,365.71 C687.45,364.88 688.54,363.84 689.64,362.80 C690.73,361.77 691.82,360.54 692.91,359.49 C694.01,358.43 695.10,357.34 696.19,356.45 C697.29,355.56 698.38,355.05 699.47,354.14 C700.56,353.23 701.66,352.10 702.75,350.99 C703.84,349.88 704.94,348.51 706.03,347.50 C707.12,346.50 708.21,345.92 709.31,344.97 C710.40,344.02 711.49,342.66 712.59,341.78 C713.68,340.90 714.77,340.41 715.86,339.67 C716.96,338.94 718.05,337.98 719.14,337.34 C720.24,336.71 721.33,336.25 722.42,335.89 C723.51,335.53 724.61,335.63 725.70,335.18 C726.79,334.74 727.89,333.93 728.98,333.24 C730.07,332.56 731.16,331.70 732.26,331.05 C733.35,330.40 734.44,329.84 735.54,329.35 C736.63,328.86 737.72,328.59 738.81,328.10 C739.91,327.61 741.00,327.09 742.09,326.41 C743.19,325.73 744.28,325.06 745.37,324.00 C746.47,322.93 747.56,321.40 748.65,320.02 C749.74,318.65 750.84,317.04 751.93,315.72 C753.02,314.40 754.12,313.12 755.21,312.12 C756.30,311.11 757.39,310.52 758.49,309.69 C759.58,308.86 760.67,307.76 761.77,307.13 C762.86,306.51 763.95,306.26 765.04,305.92 C766.14,305.58 767.23,305.12 768.32,305.08 C769.42,305.04 770.51,305.45 771.60,305.69 C772.69,305.93 773.79,306.02 774.88,306.51 C775.97,307.01 777.07,308.03 778.16,308.68 C779.25,309.33 780.34,309.82 781.44,310.41 C782.53,311.00 783.62,311.71 784.72,312.22 C785.81,312.72 786.90,312.96 787.99,313.46 C789.09,313.95 790.18,314.49 791.27,315.16 C792.37,315.83 793.46,316.86 794.55,317.46 C795.64,318.06 796.74,318.43 797.83,318.75 C798.92,319.08 800.02,319.19 801.11,319.39 C802.20,319.59 803.29,319.80 804.39,319.96 C805.48,320.11 806.57,320.21 807.67,320.31 C808.76,320.41 809.85,320.46 810.94,320.54 C812.04,320.63 813.13,320.65 814.22,320.81 C815.32,320.98 816.95,321.41 817.50,321.53" stroke="#68a83c"/>
<path d="M0.00,432.20 C5.00,431.50 20.00,430.13 30.00,428.00 C40.00,425.87 50.28,422.65 60.00,419.40 C69.72,416.15 79.97,411.30 88.30,408.50 C96.63,405.70 103.60,404.02 110.00,402.60 C116.40,401.18 119.75,401.53 126.70,400.00 C133.65,398.47 143.37,395.77 151.70,393.40 C160.03,391.03 168.37,388.58 176.70,385.80 C185.03,383.02 193.37,380.08 201.70,376.70 C210.03,373.32 216.98,369.12 226.70,365.50 C236.42,361.88 247.78,359.25 260.00,355.00 C272.22,350.75 288.85,344.85 300.00,340.00 C311.15,335.15 319.12,330.18 326.90,325.90 C334.68,321.62 340.63,317.38 346.70,314.30 C352.77,311.22 357.20,310.08 363.30,307.40 C369.40,304.72 377.47,301.07 383.30,298.20 C389.13,295.33 393.20,292.97 398.30,290.20 C403.40,287.43 408.88,283.95 413.90,281.60 C418.92,279.25 423.75,277.80 428.40,276.10 C433.05,274.40 437.33,272.97 441.80,271.40 C446.27,269.83 450.75,268.15 455.20,266.70 C459.65,265.25 464.05,264.22 468.50,262.70 C472.95,261.18 477.48,259.13 481.90,257.60 C486.32,256.07 490.22,254.72 495.00,253.50 C499.78,252.28 506.32,250.95 510.60,250.30 C514.88,249.65 516.97,249.70 520.70,249.60 C524.43,249.50 528.12,249.52 533.00,249.70 C537.88,249.88 544.38,250.12 550.00,250.70 C555.62,251.28 561.15,252.35 566.70,253.20 C572.25,254.05 577.75,254.83 583.30,255.80 C588.85,256.77 593.88,257.73 600.00,259.00 C606.12,260.27 613.05,262.23 620.00,263.40 C626.95,264.57 633.92,265.27 641.70,266.00 C649.48,266.73 660.32,267.37 666.70,267.80 C673.08,268.23 671.08,267.95 680.00,268.60 C688.92,269.25 706.82,270.73 720.20,271.70 C733.58,272.67 746.92,273.73 760.30,274.40 C773.68,275.07 790.95,275.37 800.50,275.70 C810.05,276.03 814.75,276.28 817.60,276.40" stroke="#d23c3c"/>
</g>
<g fill="none"><line x1="0" y1="98.2" x2="1155" y2="283.8" stroke="#333" stroke-width="1"/><line x1="0" y1="124.5" x2="807.5" y2="133.5" stroke="#333" stroke-width="1"/><line x1="801.5" y1="22" x2="801.5" y2="134" stroke="#444" stroke-width="1"/><line x1="0" y1="147.4" x2="1155" y2="184.5" stroke="#333" stroke-width="1"/><line x1="0" y1="376.4" x2="716" y2="246.4" stroke="#333" stroke-width="1"/><line x1="0" y1="407.3" x2="706.7" y2="413.7" stroke="#333" stroke-width="1"/><line x1="0" y1="436" x2="1155" y2="471" stroke="#333" stroke-width="1"/><line x1="195" y1="121" x2="716" y2="246.4" stroke="#444" stroke-width="1"/><line x1="355" y1="147.5" x2="733" y2="332.6" stroke="#333" stroke-width="1"/><line x1="1" y1="182.3" x2="1155" y2="182.3" stroke="#222" stroke-width="1"/><line x1="514.6" y1="288" x2="514.6" y2="478" stroke="#333" stroke-width="1"/><line x1="832.3" y1="22" x2="832.3" y2="178.3" stroke="#555" stroke-width="1"/>
<line x1="0" y1="308.9" x2="1155" y2="308.9" stroke="#6c6c6c" stroke-width="2"/>
<line x1="417.4" y1="198.7" x2="845.6" y2="290.5" stroke="#000" stroke-width="2.7" stroke-linecap="round"/>
<line x1="834.5" y1="73" x2="834.5" y2="289" stroke="#000" stroke-width="2"/>
</g>
<polygon points="637.2,342 639.3,339 640.6,339.6 641.3,340.3 641,341.8 638.6,342.6" fill="#000"/>
<g font-size="8.2" fill="#2a2a2a"><text x="5.8" y="179.4" textLength="27.9" lengthAdjust="spacingAndGlyphs">1332.99</text><text x="5.8" y="305.9" textLength="27.9" lengthAdjust="spacingAndGlyphs">1235.63</text></g>
<g font-size="10" fill="#1e1e1e"><text x="1160.3" y="461.6" textLength="31.9" lengthAdjust="spacingAndGlyphs">1120.00</text><text x="1160.3" y="435.6" textLength="31.9" lengthAdjust="spacingAndGlyphs">1140.00</text><text x="1160.3" y="409.7" textLength="31.9" lengthAdjust="spacingAndGlyphs">1160.00</text><text x="1160.3" y="383.7" textLength="31.9" lengthAdjust="spacingAndGlyphs">1180.00</text><text x="1160.3" y="357.7" textLength="31.9" lengthAdjust="spacingAndGlyphs">1200.00</text><text x="1160.3" y="331.7" textLength="31.9" lengthAdjust="spacingAndGlyphs">1220.00</text><text x="1160.3" y="305.8" textLength="31.9" lengthAdjust="spacingAndGlyphs">1240.00</text><text x="1160.3" y="279.8" textLength="31.9" lengthAdjust="spacingAndGlyphs">1260.00</text><text x="1160.3" y="253.8" textLength="31.9" lengthAdjust="spacingAndGlyphs">1280.00</text><text x="1160.3" y="227.9" textLength="31.9" lengthAdjust="spacingAndGlyphs">1300.00</text><text x="1160.3" y="201.9" textLength="31.9" lengthAdjust="spacingAndGlyphs">1320.00</text><text x="1160.3" y="175.9" textLength="31.9" lengthAdjust="spacingAndGlyphs">1340.00</text><text x="1160.3" y="150.0" textLength="31.9" lengthAdjust="spacingAndGlyphs">1360.00</text><text x="1160.3" y="124.0" textLength="31.9" lengthAdjust="spacingAndGlyphs">1380.00</text><text x="1160.3" y="98.0" textLength="31.9" lengthAdjust="spacingAndGlyphs">1400.00</text><text x="1160.3" y="72.1" textLength="31.9" lengthAdjust="spacingAndGlyphs">1420.00</text><text x="1160.3" y="46.1" textLength="31.9" lengthAdjust="spacingAndGlyphs">1440.00</text></g>
<rect x="1155.5" y="287.5" width="50" height="13" fill="#fff" stroke="#222" stroke-width="1"/>
<text x="1158.8" y="298.4" font-size="10.4" fill="#222">1246.74</text>
<g font-size="8" fill="#383838"><text x="126.8" y="485.8" text-anchor="middle">Jun</text><text x="200.5" y="485.8" text-anchor="middle">Jul</text><text x="268" y="485.8" text-anchor="middle">Aoû</text><text x="343.5" y="485.8" text-anchor="middle">Sep</text><text x="484.3" y="485.8" text-anchor="middle">Nov</text><text x="556.6" y="485.8" text-anchor="middle">Déc</text><text x="693.5" y="485.8" text-anchor="middle">Fév</text><text x="760.5" y="485.8" text-anchor="middle">Mar</text><text x="848" y="485.8" text-anchor="middle">Avr</text><text x="946.5" y="485.8" text-anchor="middle">Mai</text><text x="1048" y="485.8" text-anchor="middle">Jun</text></g>
<text x="6.9" y="473.0" font-size="7.1" font-weight="bold" fill="#444" font-family="DejaVu Sans">Valeur à titre indicatif</text>
<rect x="4.5" y="22.5" width="69" height="17.5" fill="#fff" stroke="#f4f4f4"/>
<rect x="88.5" y="22.5" width="73" height="17.5" fill="#fff" stroke="#f4f4f4"/>
<g font-family="DejaVu Sans" font-size="7.6">
<text y="33.7" font-weight="bold" fill="#444" letter-spacing="0.5"><tspan x="7.8">BOLL</tspan></text>
<text y="33.7" fill="#d48a5c" font-size="7.9"><tspan x="36.5">20</tspan><tspan x="51">2.00</tspan></text>
<text y="33.7" font-weight="bold" fill="#444" letter-spacing="0.5"><tspan x="91.8">MM</tspan></text>
<text y="33.7" font-size="7.9"><tspan x="112.3" fill="#6aab46">20</tspan><tspan x="126.8" fill="#888">50</tspan><tspan x="141.6" fill="#c8403f">200</tspan></text>
</g>
</g>
<g fill="none" stroke="#8a8a8a" stroke-width="1.4" stroke-linejoin="miter">
<polyline points="1094.9,7.6 1099.5,3.3 1104.9,8.9"/>
<polygon points="1094.9,10.9 1099.3,6.7 1104.7,12.1 1100.4,16.3" fill="#c8c8c8"/>
<g stroke-width="0.8"><line x1="1096.4" y1="9.4" x2="1102.0" y2="14.8"/><line x1="1097.9" y1="8.0" x2="1103.4" y2="13.4"/>
<line x1="1096.4" y1="12.4" x2="1100.8" y2="8.3"/><line x1="1097.9" y1="13.9" x2="1102.3" y2="9.8"/><line x1="1099.3" y1="15.2" x2="1103.6" y2="11.1"/></g>
<rect x="1113.7" y="5.7" width="10" height="9" stroke-width="1.2"/>
<path d="M1133.7,7.6 V4.6 H1140.3 V7.6" stroke-width="1.1"/>
<rect x="1133.8" y="10.6" width="6.6" height="4.6" stroke-width="1.1"/>
</g>
<g fill="#8a8a8a">
<rect x="1115.1" y="7.1" width="1.9" height="1.7"/>
<path d="M1114.3,14.5 L1114.3,13 L1118,9.9 L1120,11.8 L1121.6,10.1 L1123.2,11.8 L1123.2,14.5 Z"/>
<path d="M1131.6,8.6 Q1131.6,7.7 1132.5,7.7 H1142.1 Q1143,7.7 1143,8.6 V12.2 H1140.4 V10.6 H1133.8 V12.2 H1131.6 Z"/>
<rect x="1135" y="12" width="4.2" height="0.8"/><rect x="1135" y="13.4" width="4.2" height="0.8"/>
<path fill-rule="evenodd" d="M1162.30,5.89 L1162.33,4.06 L1163.97,4.06 L1164.00,5.89 L1164.68,6.20 L1165.38,6.46 L1166.70,5.19 L1167.86,6.35 L1166.59,7.67 L1166.85,8.37 L1167.16,9.05 L1168.99,9.08 L1168.99,10.72 L1167.16,10.75 L1166.85,11.43 L1166.59,12.13 L1167.86,13.45 L1166.70,14.61 L1165.38,13.34 L1164.68,13.60 L1164.00,13.91 L1163.97,15.74 L1162.33,15.74 L1162.30,13.91 L1161.62,13.60 L1160.92,13.34 L1159.60,14.61 L1158.44,13.45 L1159.71,12.13 L1159.45,11.43 L1159.14,10.75 L1157.31,10.72 L1157.31,9.08 L1159.14,9.05 L1159.45,8.37 L1159.71,7.67 L1158.44,6.35 L1159.60,5.19 L1160.92,6.46 L1161.62,6.20 Z M1165.35,9.90 A2.2,2.2 0 1,0 1160.95,9.90 A2.2,2.2 0 1,0 1165.35,9.90 Z"/>
<text x="0" y="0" font-size="15.6" font-weight="bold" font-family="DejaVu Sans" transform="translate(1176.6,15.6) scale(1.18,1)">?</text>
<path d="M1195.2,5 H1201 V11.3 H1198.5 L1196,14.3 L1196.6,11.3 H1195.2 Z"/>
</g>
</svg>
</body></html>
